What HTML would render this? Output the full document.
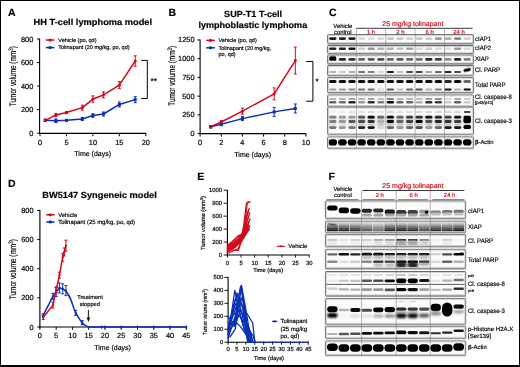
<!DOCTYPE html>
<html><head><meta charset="utf-8"><style>
html,body{margin:0;padding:0;background:#000;}
body{width:520px;height:367px;overflow:hidden;position:relative;}
#w{position:absolute;left:1px;top:1px;width:517.6px;height:364.3px;background:#fff;}
svg{position:absolute;left:0;top:0;will-change:transform;}
svg text{font-family:"Liberation Sans", sans-serif;stroke-width:0.18px;text-rendering:geometricPrecision;}
</style></head><body><div id="w"></div>
<svg width="520" height="367" viewBox="0 0 520 367">
<defs><linearGradient id="gx" x1="0" y1="0" x2="0" y2="1"><stop offset="0" stop-color="#000" stop-opacity="0.05"/><stop offset="0.4" stop-color="#000" stop-opacity="0.5"/><stop offset="1" stop-color="#000" stop-opacity="1"/></linearGradient><filter id="b4" x="-50%" y="-100%" width="200%" height="300%"><feGaussianBlur stdDeviation="0.4"/></filter><filter id="b5" x="-50%" y="-100%" width="200%" height="300%"><feGaussianBlur stdDeviation="0.5"/></filter><filter id="b6" x="-50%" y="-100%" width="200%" height="300%"><feGaussianBlur stdDeviation="0.6"/></filter><filter id="b7" x="-50%" y="-100%" width="200%" height="300%"><feGaussianBlur stdDeviation="0.7"/></filter><filter id="b8" x="-50%" y="-100%" width="200%" height="300%"><feGaussianBlur stdDeviation="0.8"/></filter><filter id="b10" x="-50%" y="-100%" width="200%" height="300%"><feGaussianBlur stdDeviation="1.0"/></filter></defs>
<text x="8.00" y="16.00" font-size="10.5" text-anchor="start" font-weight="bold" fill="#000" stroke="#000" >A</text>
<text x="33.60" y="25.00" font-size="8.8" text-anchor="start" font-weight="bold" fill="#000" stroke="#000" textLength="118.5" lengthAdjust="spacingAndGlyphs">HH T-cell lymphoma model</text>
<line x1="39.60" y1="38.60" x2="39.60" y2="133.90" stroke="#000" stroke-width="1.1" />
<line x1="39.05" y1="133.40" x2="146.20" y2="133.40" stroke="#000" stroke-width="1.1" />
<line x1="37.00" y1="133.20" x2="39.60" y2="133.20" stroke="#000" stroke-width="1" />
<text x="33.30" y="135.70" font-size="7.4" text-anchor="end" font-weight="normal" fill="#000" stroke="#000" >0</text>
<line x1="37.00" y1="109.65" x2="39.60" y2="109.65" stroke="#000" stroke-width="1" />
<text x="33.30" y="112.15" font-size="7.4" text-anchor="end" font-weight="normal" fill="#000" stroke="#000" >200</text>
<line x1="37.00" y1="86.10" x2="39.60" y2="86.10" stroke="#000" stroke-width="1" />
<text x="33.30" y="88.60" font-size="7.4" text-anchor="end" font-weight="normal" fill="#000" stroke="#000" >400</text>
<line x1="37.00" y1="62.55" x2="39.60" y2="62.55" stroke="#000" stroke-width="1" />
<text x="33.30" y="65.05" font-size="7.4" text-anchor="end" font-weight="normal" fill="#000" stroke="#000" >600</text>
<line x1="37.00" y1="39.00" x2="39.60" y2="39.00" stroke="#000" stroke-width="1" />
<text x="33.30" y="41.50" font-size="7.4" text-anchor="end" font-weight="normal" fill="#000" stroke="#000" >800</text>
<line x1="40.00" y1="133.40" x2="40.00" y2="136.20" stroke="#000" stroke-width="1" />
<text x="40.00" y="145.20" font-size="7.4" text-anchor="middle" font-weight="normal" fill="#000" stroke="#000" >0</text>
<line x1="66.45" y1="133.40" x2="66.45" y2="136.20" stroke="#000" stroke-width="1" />
<text x="66.45" y="145.20" font-size="7.4" text-anchor="middle" font-weight="normal" fill="#000" stroke="#000" >5</text>
<line x1="92.90" y1="133.40" x2="92.90" y2="136.20" stroke="#000" stroke-width="1" />
<text x="92.90" y="145.20" font-size="7.4" text-anchor="middle" font-weight="normal" fill="#000" stroke="#000" >10</text>
<line x1="119.35" y1="133.40" x2="119.35" y2="136.20" stroke="#000" stroke-width="1" />
<text x="119.35" y="145.20" font-size="7.4" text-anchor="middle" font-weight="normal" fill="#000" stroke="#000" >15</text>
<line x1="145.80" y1="133.40" x2="145.80" y2="136.20" stroke="#000" stroke-width="1" />
<text x="145.80" y="145.20" font-size="7.4" text-anchor="middle" font-weight="normal" fill="#000" stroke="#000" >20</text>
<text x="92.70" y="155.50" font-size="7.0" text-anchor="middle" font-weight="normal" fill="#000" stroke="#000" >Time (days)</text>
<text transform="translate(16.00,76.20) rotate(-90)" x="0" y="0" font-size="9.4" text-anchor="middle" stroke="#000" textLength="60" lengthAdjust="spacingAndGlyphs">Tumor volume (mm<tspan font-size="6.58" dy="-3.29">3</tspan><tspan dy="3.29">)</tspan></text>
<polyline points="45.29,120.37 55.87,120.72 66.45,120.37 82.32,118.95 92.90,115.54 103.48,114.01 119.35,104.47 135.22,99.64" fill="none" stroke="#0b2fb5" stroke-width="1.5" stroke-linejoin="round" stroke-linecap="round" />
<line x1="45.29" y1="119.17" x2="45.29" y2="121.57" stroke="#0b2fb5" stroke-width="1.0" />
<line x1="43.79" y1="119.17" x2="46.79" y2="119.17" stroke="#0b2fb5" stroke-width="1.0" />
<line x1="43.79" y1="121.57" x2="46.79" y2="121.57" stroke="#0b2fb5" stroke-width="1.0" />
<rect x="43.79" y="118.87" width="3.0" height="3.0" fill="#0b2fb5"/>
<line x1="55.87" y1="118.92" x2="55.87" y2="122.52" stroke="#0b2fb5" stroke-width="1.0" />
<line x1="54.37" y1="118.92" x2="57.37" y2="118.92" stroke="#0b2fb5" stroke-width="1.0" />
<line x1="54.37" y1="122.52" x2="57.37" y2="122.52" stroke="#0b2fb5" stroke-width="1.0" />
<rect x="54.37" y="119.22" width="3.0" height="3.0" fill="#0b2fb5"/>
<line x1="66.45" y1="119.37" x2="66.45" y2="121.37" stroke="#0b2fb5" stroke-width="1.0" />
<line x1="64.95" y1="119.37" x2="67.95" y2="119.37" stroke="#0b2fb5" stroke-width="1.0" />
<line x1="64.95" y1="121.37" x2="67.95" y2="121.37" stroke="#0b2fb5" stroke-width="1.0" />
<rect x="64.95" y="118.87" width="3.0" height="3.0" fill="#0b2fb5"/>
<line x1="82.32" y1="117.45" x2="82.32" y2="120.45" stroke="#0b2fb5" stroke-width="1.0" />
<line x1="80.82" y1="117.45" x2="83.82" y2="117.45" stroke="#0b2fb5" stroke-width="1.0" />
<line x1="80.82" y1="120.45" x2="83.82" y2="120.45" stroke="#0b2fb5" stroke-width="1.0" />
<rect x="80.82" y="117.45" width="3.0" height="3.0" fill="#0b2fb5"/>
<line x1="92.90" y1="113.74" x2="92.90" y2="117.34" stroke="#0b2fb5" stroke-width="1.0" />
<line x1="91.40" y1="113.74" x2="94.40" y2="113.74" stroke="#0b2fb5" stroke-width="1.0" />
<line x1="91.40" y1="117.34" x2="94.40" y2="117.34" stroke="#0b2fb5" stroke-width="1.0" />
<rect x="91.40" y="114.04" width="3.0" height="3.0" fill="#0b2fb5"/>
<line x1="103.48" y1="112.01" x2="103.48" y2="116.01" stroke="#0b2fb5" stroke-width="1.0" />
<line x1="101.98" y1="112.01" x2="104.98" y2="112.01" stroke="#0b2fb5" stroke-width="1.0" />
<line x1="101.98" y1="116.01" x2="104.98" y2="116.01" stroke="#0b2fb5" stroke-width="1.0" />
<rect x="101.98" y="112.51" width="3.0" height="3.0" fill="#0b2fb5"/>
<line x1="119.35" y1="101.97" x2="119.35" y2="106.97" stroke="#0b2fb5" stroke-width="1.0" />
<line x1="117.85" y1="101.97" x2="120.85" y2="101.97" stroke="#0b2fb5" stroke-width="1.0" />
<line x1="117.85" y1="106.97" x2="120.85" y2="106.97" stroke="#0b2fb5" stroke-width="1.0" />
<rect x="117.85" y="102.97" width="3.0" height="3.0" fill="#0b2fb5"/>
<line x1="135.22" y1="96.64" x2="135.22" y2="102.64" stroke="#0b2fb5" stroke-width="1.0" />
<line x1="133.72" y1="96.64" x2="136.72" y2="96.64" stroke="#0b2fb5" stroke-width="1.0" />
<line x1="133.72" y1="102.64" x2="136.72" y2="102.64" stroke="#0b2fb5" stroke-width="1.0" />
<rect x="133.72" y="98.14" width="3.0" height="3.0" fill="#0b2fb5"/>
<polyline points="45.29,120.37 55.87,114.95 66.45,112.59 82.32,107.65 92.90,99.05 103.48,94.93 119.35,85.16 135.22,61.02" fill="none" stroke="#d00a1c" stroke-width="1.5" stroke-linejoin="round" stroke-linecap="round" />
<line x1="45.29" y1="119.37" x2="45.29" y2="121.37" stroke="#d00a1c" stroke-width="1.0" />
<line x1="43.79" y1="119.37" x2="46.79" y2="119.37" stroke="#d00a1c" stroke-width="1.0" />
<line x1="43.79" y1="121.37" x2="46.79" y2="121.37" stroke="#d00a1c" stroke-width="1.0" />
<circle cx="45.29" cy="120.37" r="1.5" fill="#d00a1c"/>
<line x1="55.87" y1="113.45" x2="55.87" y2="116.45" stroke="#d00a1c" stroke-width="1.0" />
<line x1="54.37" y1="113.45" x2="57.37" y2="113.45" stroke="#d00a1c" stroke-width="1.0" />
<line x1="54.37" y1="116.45" x2="57.37" y2="116.45" stroke="#d00a1c" stroke-width="1.0" />
<circle cx="55.87" cy="114.95" r="1.5" fill="#d00a1c"/>
<line x1="66.45" y1="111.59" x2="66.45" y2="113.59" stroke="#d00a1c" stroke-width="1.0" />
<line x1="64.95" y1="111.59" x2="67.95" y2="111.59" stroke="#d00a1c" stroke-width="1.0" />
<line x1="64.95" y1="113.59" x2="67.95" y2="113.59" stroke="#d00a1c" stroke-width="1.0" />
<circle cx="66.45" cy="112.59" r="1.5" fill="#d00a1c"/>
<line x1="82.32" y1="105.15" x2="82.32" y2="110.15" stroke="#d00a1c" stroke-width="1.0" />
<line x1="80.82" y1="105.15" x2="83.82" y2="105.15" stroke="#d00a1c" stroke-width="1.0" />
<line x1="80.82" y1="110.15" x2="83.82" y2="110.15" stroke="#d00a1c" stroke-width="1.0" />
<circle cx="82.32" cy="107.65" r="1.5" fill="#d00a1c"/>
<line x1="92.90" y1="95.85" x2="92.90" y2="102.25" stroke="#d00a1c" stroke-width="1.0" />
<line x1="91.40" y1="95.85" x2="94.40" y2="95.85" stroke="#d00a1c" stroke-width="1.0" />
<line x1="91.40" y1="102.25" x2="94.40" y2="102.25" stroke="#d00a1c" stroke-width="1.0" />
<circle cx="92.90" cy="99.05" r="1.5" fill="#d00a1c"/>
<line x1="103.48" y1="91.93" x2="103.48" y2="97.93" stroke="#d00a1c" stroke-width="1.0" />
<line x1="101.98" y1="91.93" x2="104.98" y2="91.93" stroke="#d00a1c" stroke-width="1.0" />
<line x1="101.98" y1="97.93" x2="104.98" y2="97.93" stroke="#d00a1c" stroke-width="1.0" />
<circle cx="103.48" cy="94.93" r="1.5" fill="#d00a1c"/>
<line x1="119.35" y1="81.66" x2="119.35" y2="88.66" stroke="#d00a1c" stroke-width="1.0" />
<line x1="117.85" y1="81.66" x2="120.85" y2="81.66" stroke="#d00a1c" stroke-width="1.0" />
<line x1="117.85" y1="88.66" x2="120.85" y2="88.66" stroke="#d00a1c" stroke-width="1.0" />
<circle cx="119.35" cy="85.16" r="1.5" fill="#d00a1c"/>
<line x1="135.22" y1="55.82" x2="135.22" y2="66.22" stroke="#d00a1c" stroke-width="1.0" />
<line x1="133.72" y1="55.82" x2="136.72" y2="55.82" stroke="#d00a1c" stroke-width="1.0" />
<line x1="133.72" y1="66.22" x2="136.72" y2="66.22" stroke="#d00a1c" stroke-width="1.0" />
<circle cx="135.22" cy="61.02" r="1.5" fill="#d00a1c"/>
<line x1="45.80" y1="40.00" x2="54.40" y2="40.00" stroke="#d00a1c" stroke-width="1.5" />
<circle cx="50.10" cy="40.00" r="1.6" fill="#d00a1c"/>
<text x="58.30" y="41.80" font-size="5.5" text-anchor="start" font-weight="normal" fill="#000" stroke="#000" >Vehicle (po, qd)</text>
<line x1="45.80" y1="47.60" x2="54.40" y2="47.60" stroke="#0b2fb5" stroke-width="1.5" />
<rect x="48.70" y="46.20" width="2.8" height="2.8" fill="#0b2fb5"/>
<text x="58.30" y="49.40" font-size="5.5" text-anchor="start" font-weight="normal" fill="#000" stroke="#000" >Tolinapant (20 mg/kg, po, qd)</text>
<polyline points="141.2,60.4 147.3,60.4 147.3,98.5 141.2,98.5" fill="none" stroke="#000" stroke-width="1.0"/>
<text x="153.80" y="84.30" font-size="8.5" text-anchor="middle" font-weight="normal" fill="#000" stroke="#000" >**</text>
<text x="168.50" y="16.30" font-size="10.5" text-anchor="start" font-weight="bold" fill="#000" stroke="#000" >B</text>
<text x="253.10" y="17.00" font-size="8.8" text-anchor="middle" font-weight="bold" fill="#000" stroke="#000" textLength="58" lengthAdjust="spacingAndGlyphs">SUP-T1 T-cell</text>
<text x="252.80" y="28.20" font-size="8.8" text-anchor="middle" font-weight="bold" fill="#000" stroke="#000" textLength="108.8" lengthAdjust="spacingAndGlyphs">lymphoblastic lymphoma</text>
<line x1="200.10" y1="39.50" x2="200.10" y2="134.10" stroke="#000" stroke-width="1.1" />
<line x1="199.55" y1="133.60" x2="306.30" y2="133.60" stroke="#000" stroke-width="1.1" />
<line x1="197.40" y1="133.60" x2="200.10" y2="133.60" stroke="#000" stroke-width="1" />
<text x="194.50" y="136.10" font-size="7.4" text-anchor="end" font-weight="normal" fill="#000" stroke="#000" >0</text>
<line x1="197.40" y1="114.88" x2="200.10" y2="114.88" stroke="#000" stroke-width="1" />
<text x="194.50" y="117.38" font-size="7.4" text-anchor="end" font-weight="normal" fill="#000" stroke="#000" >250</text>
<line x1="197.40" y1="96.15" x2="200.10" y2="96.15" stroke="#000" stroke-width="1" />
<text x="194.50" y="98.65" font-size="7.4" text-anchor="end" font-weight="normal" fill="#000" stroke="#000" >500</text>
<line x1="197.40" y1="77.42" x2="200.10" y2="77.42" stroke="#000" stroke-width="1" />
<text x="194.50" y="79.92" font-size="7.4" text-anchor="end" font-weight="normal" fill="#000" stroke="#000" >750</text>
<line x1="197.40" y1="58.70" x2="200.10" y2="58.70" stroke="#000" stroke-width="1" />
<text x="194.50" y="61.20" font-size="7.4" text-anchor="end" font-weight="normal" fill="#000" stroke="#000" >1000</text>
<line x1="197.40" y1="39.97" x2="200.10" y2="39.97" stroke="#000" stroke-width="1" />
<text x="194.50" y="42.47" font-size="7.4" text-anchor="end" font-weight="normal" fill="#000" stroke="#000" >1250</text>
<line x1="200.10" y1="133.60" x2="200.10" y2="136.60" stroke="#000" stroke-width="1" />
<text x="200.10" y="145.40" font-size="7.4" text-anchor="middle" font-weight="normal" fill="#000" stroke="#000" >0</text>
<line x1="221.26" y1="133.60" x2="221.26" y2="136.60" stroke="#000" stroke-width="1" />
<text x="221.26" y="145.40" font-size="7.4" text-anchor="middle" font-weight="normal" fill="#000" stroke="#000" >2</text>
<line x1="242.42" y1="133.60" x2="242.42" y2="136.60" stroke="#000" stroke-width="1" />
<text x="242.42" y="145.40" font-size="7.4" text-anchor="middle" font-weight="normal" fill="#000" stroke="#000" >4</text>
<line x1="263.58" y1="133.60" x2="263.58" y2="136.60" stroke="#000" stroke-width="1" />
<text x="263.58" y="145.40" font-size="7.4" text-anchor="middle" font-weight="normal" fill="#000" stroke="#000" >6</text>
<line x1="284.74" y1="133.60" x2="284.74" y2="136.60" stroke="#000" stroke-width="1" />
<text x="284.74" y="145.40" font-size="7.4" text-anchor="middle" font-weight="normal" fill="#000" stroke="#000" >8</text>
<line x1="305.90" y1="133.60" x2="305.90" y2="136.60" stroke="#000" stroke-width="1" />
<text x="305.90" y="145.40" font-size="7.4" text-anchor="middle" font-weight="normal" fill="#000" stroke="#000" >10</text>
<text x="252.70" y="156.50" font-size="7.0" text-anchor="middle" font-weight="normal" fill="#000" stroke="#000" >Time (days)</text>
<text transform="translate(175.20,75.80) rotate(-90)" x="0" y="0" font-size="9.4" text-anchor="middle" stroke="#000" textLength="60" lengthAdjust="spacingAndGlyphs">Tumor volume (mm<tspan font-size="6.58" dy="-3.29">3</tspan><tspan dy="3.29">)</tspan></text>
<polyline points="210.68,126.86 221.26,124.24 242.42,118.62 274.16,111.88 295.32,108.51" fill="none" stroke="#0b2fb5" stroke-width="1.5" stroke-linejoin="round" stroke-linecap="round" />
<line x1="210.68" y1="125.86" x2="210.68" y2="127.86" stroke="#0b2fb5" stroke-width="1.0" />
<line x1="209.18" y1="125.86" x2="212.18" y2="125.86" stroke="#0b2fb5" stroke-width="1.0" />
<line x1="209.18" y1="127.86" x2="212.18" y2="127.86" stroke="#0b2fb5" stroke-width="1.0" />
<rect x="209.18" y="125.36" width="3.0" height="3.0" fill="#0b2fb5"/>
<line x1="221.26" y1="122.74" x2="221.26" y2="125.74" stroke="#0b2fb5" stroke-width="1.0" />
<line x1="219.76" y1="122.74" x2="222.76" y2="122.74" stroke="#0b2fb5" stroke-width="1.0" />
<line x1="219.76" y1="125.74" x2="222.76" y2="125.74" stroke="#0b2fb5" stroke-width="1.0" />
<rect x="219.76" y="122.74" width="3.0" height="3.0" fill="#0b2fb5"/>
<line x1="242.42" y1="116.62" x2="242.42" y2="120.62" stroke="#0b2fb5" stroke-width="1.0" />
<line x1="240.92" y1="116.62" x2="243.92" y2="116.62" stroke="#0b2fb5" stroke-width="1.0" />
<line x1="240.92" y1="120.62" x2="243.92" y2="120.62" stroke="#0b2fb5" stroke-width="1.0" />
<rect x="240.92" y="117.12" width="3.0" height="3.0" fill="#0b2fb5"/>
<line x1="274.16" y1="107.38" x2="274.16" y2="116.38" stroke="#0b2fb5" stroke-width="1.0" />
<line x1="272.66" y1="107.38" x2="275.66" y2="107.38" stroke="#0b2fb5" stroke-width="1.0" />
<line x1="272.66" y1="116.38" x2="275.66" y2="116.38" stroke="#0b2fb5" stroke-width="1.0" />
<rect x="272.66" y="110.38" width="3.0" height="3.0" fill="#0b2fb5"/>
<line x1="295.32" y1="104.01" x2="295.32" y2="113.01" stroke="#0b2fb5" stroke-width="1.0" />
<line x1="293.82" y1="104.01" x2="296.82" y2="104.01" stroke="#0b2fb5" stroke-width="1.0" />
<line x1="293.82" y1="113.01" x2="296.82" y2="113.01" stroke="#0b2fb5" stroke-width="1.0" />
<rect x="293.82" y="107.01" width="3.0" height="3.0" fill="#0b2fb5"/>
<polyline points="210.68,126.71 221.26,121.99 242.42,111.13 274.16,93.90 295.32,60.57" fill="none" stroke="#d00a1c" stroke-width="1.5" stroke-linejoin="round" stroke-linecap="round" />
<line x1="210.68" y1="125.71" x2="210.68" y2="127.71" stroke="#d00a1c" stroke-width="1.0" />
<line x1="209.18" y1="125.71" x2="212.18" y2="125.71" stroke="#d00a1c" stroke-width="1.0" />
<line x1="209.18" y1="127.71" x2="212.18" y2="127.71" stroke="#d00a1c" stroke-width="1.0" />
<circle cx="210.68" cy="126.71" r="1.5" fill="#d00a1c"/>
<line x1="221.26" y1="120.49" x2="221.26" y2="123.49" stroke="#d00a1c" stroke-width="1.0" />
<line x1="219.76" y1="120.49" x2="222.76" y2="120.49" stroke="#d00a1c" stroke-width="1.0" />
<line x1="219.76" y1="123.49" x2="222.76" y2="123.49" stroke="#d00a1c" stroke-width="1.0" />
<circle cx="221.26" cy="121.99" r="1.5" fill="#d00a1c"/>
<line x1="242.42" y1="108.13" x2="242.42" y2="114.13" stroke="#d00a1c" stroke-width="1.0" />
<line x1="240.92" y1="108.13" x2="243.92" y2="108.13" stroke="#d00a1c" stroke-width="1.0" />
<line x1="240.92" y1="114.13" x2="243.92" y2="114.13" stroke="#d00a1c" stroke-width="1.0" />
<circle cx="242.42" cy="111.13" r="1.5" fill="#d00a1c"/>
<line x1="274.16" y1="87.90" x2="274.16" y2="99.90" stroke="#d00a1c" stroke-width="1.0" />
<line x1="272.66" y1="87.90" x2="275.66" y2="87.90" stroke="#d00a1c" stroke-width="1.0" />
<line x1="272.66" y1="99.90" x2="275.66" y2="99.90" stroke="#d00a1c" stroke-width="1.0" />
<circle cx="274.16" cy="93.90" r="1.5" fill="#d00a1c"/>
<line x1="295.32" y1="47.07" x2="295.32" y2="74.07" stroke="#d00a1c" stroke-width="1.0" />
<line x1="293.82" y1="47.07" x2="296.82" y2="47.07" stroke="#d00a1c" stroke-width="1.0" />
<line x1="293.82" y1="74.07" x2="296.82" y2="74.07" stroke="#d00a1c" stroke-width="1.0" />
<circle cx="295.32" cy="60.57" r="1.5" fill="#d00a1c"/>
<line x1="206.20" y1="40.40" x2="214.90" y2="40.40" stroke="#d00a1c" stroke-width="1.5" />
<circle cx="210.50" cy="40.40" r="1.6" fill="#d00a1c"/>
<text x="218.50" y="42.30" font-size="5.5" text-anchor="start" font-weight="normal" fill="#000" stroke="#000" >Vehicle (po, qd)</text>
<line x1="206.20" y1="47.80" x2="214.90" y2="47.80" stroke="#0b2fb5" stroke-width="1.5" />
<rect x="209.10" y="46.40" width="2.8" height="2.8" fill="#0b2fb5"/>
<text x="218.50" y="49.60" font-size="5.5" text-anchor="start" font-weight="normal" fill="#000" stroke="#000" >Tolinapant (20 mg/kg,</text>
<text x="218.50" y="55.80" font-size="5.5" text-anchor="start" font-weight="normal" fill="#000" stroke="#000" >po, qd)</text>
<polyline points="306.2,61.5 312.9,61.5 312.9,101.2 306.2,101.2" fill="none" stroke="#000" stroke-width="1.0"/>
<text x="317.00" y="84.00" font-size="7.8" text-anchor="middle" font-weight="normal" fill="#000" stroke="#000" >*</text>
<text x="329.00" y="16.40" font-size="10.5" text-anchor="start" font-weight="bold" fill="#000" stroke="#000" >C</text>
<text x="342.80" y="28.00" font-size="5.9" text-anchor="middle" font-weight="normal" fill="#000" stroke="#000" >Vehicle</text>
<text x="342.80" y="33.60" font-size="5.9" text-anchor="middle" font-weight="normal" fill="#000" stroke="#000" >control</text>
<text x="412.80" y="26.00" font-size="7.0" text-anchor="middle" font-weight="normal" fill="#d00a1c" stroke="#d00a1c" >25 mg/kg tolinapant</text>
<line x1="356.30" y1="28.30" x2="472.60" y2="28.30" stroke="#222" stroke-width="0.9" />
<text x="371.05" y="33.90" font-size="5.9" text-anchor="middle" font-weight="normal" fill="#d00a1c" stroke="#d00a1c" >1 h</text>
<text x="400.35" y="33.90" font-size="5.9" text-anchor="middle" font-weight="normal" fill="#d00a1c" stroke="#d00a1c" >2 h</text>
<text x="429.65" y="33.90" font-size="5.9" text-anchor="middle" font-weight="normal" fill="#d00a1c" stroke="#d00a1c" >6 h</text>
<text x="458.95" y="33.90" font-size="5.9" text-anchor="middle" font-weight="normal" fill="#d00a1c" stroke="#d00a1c" >24 h</text>
<rect x="327.60" y="34.60" width="146.00" height="9.00" fill="#fbfbfb" stroke="#5a5a5a" stroke-width="0.9" rx="0.8"/>
<rect x="327.60" y="45.50" width="146.00" height="8.00" fill="#fbfbfb" stroke="#5a5a5a" stroke-width="0.9" rx="0.8"/>
<rect x="327.60" y="55.10" width="146.00" height="8.60" fill="#fbfbfb" stroke="#5a5a5a" stroke-width="0.9" rx="0.8"/>
<rect x="327.60" y="65.50" width="146.00" height="9.90" fill="#fbfbfb" stroke="#5a5a5a" stroke-width="0.9" rx="0.8"/>
<rect x="327.60" y="77.40" width="146.00" height="15.20" fill="#fbfbfb" stroke="#5a5a5a" stroke-width="0.9" rx="0.8"/>
<rect x="327.60" y="95.00" width="146.00" height="11.30" fill="#fbfbfb" stroke="#5a5a5a" stroke-width="0.9" rx="0.8"/>
<rect x="327.60" y="107.20" width="146.00" height="27.10" fill="#fbfbfb" stroke="#5a5a5a" stroke-width="0.9" rx="0.8"/>
<rect x="327.60" y="136.90" width="146.00" height="11.30" fill="#fbfbfb" stroke="#5a5a5a" stroke-width="0.9" rx="0.8"/>
<rect x="329.20" y="37.20" width="7.20" height="2.80" rx="1.40" fill="rgb(25,25,25)" filter="url(#b6)"/>
<rect x="338.80" y="37.20" width="7.20" height="2.80" rx="1.40" fill="rgb(38,38,38)" filter="url(#b6)"/>
<rect x="348.40" y="37.20" width="7.20" height="2.80" rx="1.40" fill="rgb(38,38,38)" filter="url(#b6)"/>
<rect x="358.00" y="37.20" width="7.20" height="2.80" rx="1.40" fill="rgb(217,217,217)" filter="url(#b6)"/>
<rect x="367.60" y="37.20" width="7.20" height="2.80" rx="1.40" fill="rgb(224,224,224)" filter="url(#b6)"/>
<rect x="377.20" y="37.20" width="7.20" height="2.80" rx="1.40" fill="rgb(217,217,217)" filter="url(#b6)"/>
<rect x="386.80" y="37.20" width="7.20" height="2.80" rx="1.40" fill="rgb(199,199,199)" filter="url(#b6)"/>
<rect x="396.40" y="37.20" width="7.20" height="2.80" rx="1.40" fill="rgb(199,199,199)" filter="url(#b6)"/>
<rect x="406.00" y="37.20" width="7.20" height="2.80" rx="1.40" fill="rgb(209,209,209)" filter="url(#b6)"/>
<rect x="415.60" y="37.20" width="7.20" height="2.80" rx="1.40" fill="rgb(199,199,199)" filter="url(#b6)"/>
<rect x="425.20" y="37.20" width="7.20" height="2.80" rx="1.40" fill="rgb(204,204,204)" filter="url(#b6)"/>
<rect x="434.80" y="37.20" width="7.20" height="2.80" rx="1.40" fill="rgb(153,153,153)" filter="url(#b6)"/>
<rect x="444.40" y="37.20" width="7.20" height="2.80" rx="1.40" fill="rgb(178,178,178)" filter="url(#b6)"/>
<rect x="454.00" y="37.20" width="7.20" height="2.80" rx="1.40" fill="rgb(140,140,140)" filter="url(#b6)"/>
<rect x="463.60" y="37.20" width="7.20" height="2.80" rx="1.40" fill="rgb(209,209,209)" filter="url(#b6)"/>
<rect x="329.20" y="47.55" width="7.20" height="2.50" rx="1.25" fill="rgb(38,38,38)" filter="url(#b6)"/>
<rect x="338.80" y="47.55" width="7.20" height="2.50" rx="1.25" fill="rgb(38,38,38)" filter="url(#b6)"/>
<rect x="348.40" y="47.55" width="7.20" height="2.50" rx="1.25" fill="rgb(25,25,25)" filter="url(#b6)"/>
<rect x="358.00" y="47.55" width="7.20" height="2.50" rx="1.25" fill="rgb(204,204,204)" filter="url(#b6)"/>
<rect x="367.60" y="47.55" width="7.20" height="2.50" rx="1.25" fill="rgb(153,153,153)" filter="url(#b6)"/>
<rect x="377.20" y="47.55" width="7.20" height="2.50" rx="1.25" fill="rgb(178,178,178)" filter="url(#b6)"/>
<rect x="386.80" y="47.55" width="7.20" height="2.50" rx="1.25" fill="rgb(178,178,178)" filter="url(#b6)"/>
<rect x="396.40" y="47.55" width="7.20" height="2.50" rx="1.25" fill="rgb(191,191,191)" filter="url(#b6)"/>
<rect x="406.00" y="47.55" width="7.20" height="2.50" rx="1.25" fill="rgb(166,166,166)" filter="url(#b6)"/>
<rect x="415.60" y="47.55" width="7.20" height="2.50" rx="1.25" fill="rgb(217,217,217)" filter="url(#b6)"/>
<rect x="425.20" y="47.55" width="7.20" height="2.50" rx="1.25" fill="rgb(204,204,204)" filter="url(#b6)"/>
<rect x="434.80" y="47.55" width="7.20" height="2.50" rx="1.25" fill="rgb(217,217,217)" filter="url(#b6)"/>
<rect x="444.40" y="47.55" width="7.20" height="2.50" rx="1.25" fill="rgb(224,224,224)" filter="url(#b6)"/>
<rect x="454.00" y="47.55" width="7.20" height="2.50" rx="1.25" fill="rgb(153,153,153)" filter="url(#b6)"/>
<rect x="463.60" y="47.55" width="7.20" height="2.50" rx="1.25" fill="rgb(217,217,217)" filter="url(#b6)"/>
<rect x="329.20" y="58.00" width="7.20" height="2.80" rx="1.40" fill="rgb(0,0,0)" filter="url(#b6)"/>
<rect x="338.80" y="58.00" width="7.20" height="2.80" rx="1.40" fill="rgb(38,38,38)" filter="url(#b6)"/>
<rect x="348.40" y="58.00" width="7.20" height="2.80" rx="1.40" fill="rgb(51,51,51)" filter="url(#b6)"/>
<rect x="358.00" y="58.00" width="7.20" height="2.80" rx="1.40" fill="rgb(102,102,102)" filter="url(#b6)"/>
<rect x="367.60" y="58.00" width="7.20" height="2.80" rx="1.40" fill="rgb(89,89,89)" filter="url(#b6)"/>
<rect x="377.20" y="58.00" width="7.20" height="2.80" rx="1.40" fill="rgb(77,77,77)" filter="url(#b6)"/>
<rect x="386.80" y="58.00" width="7.20" height="2.80" rx="1.40" fill="rgb(102,102,102)" filter="url(#b6)"/>
<rect x="396.40" y="58.00" width="7.20" height="2.80" rx="1.40" fill="rgb(89,89,89)" filter="url(#b6)"/>
<rect x="406.00" y="58.00" width="7.20" height="2.80" rx="1.40" fill="rgb(102,102,102)" filter="url(#b6)"/>
<rect x="415.60" y="58.00" width="7.20" height="2.80" rx="1.40" fill="rgb(115,115,115)" filter="url(#b6)"/>
<rect x="425.20" y="58.00" width="7.20" height="2.80" rx="1.40" fill="rgb(38,38,38)" filter="url(#b6)"/>
<rect x="434.80" y="58.00" width="7.20" height="2.80" rx="1.40" fill="rgb(64,64,64)" filter="url(#b6)"/>
<rect x="444.40" y="58.00" width="7.20" height="2.80" rx="1.40" fill="rgb(140,140,140)" filter="url(#b6)"/>
<rect x="454.00" y="58.00" width="7.20" height="2.80" rx="1.40" fill="rgb(38,38,38)" filter="url(#b6)"/>
<rect x="463.60" y="58.00" width="7.20" height="2.80" rx="1.40" fill="rgb(128,128,128)" filter="url(#b6)"/>
<rect x="329.30" y="55.80" width="7.00" height="4.00" rx="2.00" fill="rgb(0,0,0)" filter="url(#b6)"/>
<rect x="329.30" y="70.90" width="7.00" height="2.00" rx="1.00" fill="rgb(178,178,178)" filter="url(#b6)"/>
<rect x="338.90" y="70.90" width="7.00" height="2.00" rx="1.00" fill="rgb(204,204,204)" filter="url(#b6)"/>
<rect x="348.50" y="70.90" width="7.00" height="2.00" rx="1.00" fill="rgb(178,178,178)" filter="url(#b6)"/>
<rect x="358.10" y="70.90" width="7.00" height="2.00" rx="1.00" fill="rgb(115,115,115)" filter="url(#b6)"/>
<rect x="367.70" y="70.90" width="7.00" height="2.00" rx="1.00" fill="rgb(128,128,128)" filter="url(#b6)"/>
<rect x="377.30" y="70.90" width="7.00" height="2.00" rx="1.00" fill="rgb(217,217,217)" filter="url(#b6)"/>
<rect x="386.90" y="70.90" width="7.00" height="2.00" rx="1.00" fill="rgb(25,25,25)" filter="url(#b6)"/>
<rect x="396.50" y="70.90" width="7.00" height="2.00" rx="1.00" fill="rgb(191,191,191)" filter="url(#b6)"/>
<rect x="406.10" y="70.90" width="7.00" height="2.00" rx="1.00" fill="rgb(77,77,77)" filter="url(#b6)"/>
<rect x="415.70" y="70.90" width="7.00" height="2.00" rx="1.00" fill="rgb(64,64,64)" filter="url(#b6)"/>
<rect x="425.30" y="70.90" width="7.00" height="2.00" rx="1.00" fill="rgb(166,166,166)" filter="url(#b6)"/>
<rect x="434.90" y="70.90" width="7.00" height="2.00" rx="1.00" fill="rgb(102,102,102)" filter="url(#b6)"/>
<rect x="444.50" y="70.90" width="7.00" height="2.00" rx="1.00" fill="rgb(38,38,38)" filter="url(#b6)"/>
<rect x="454.10" y="70.90" width="7.00" height="2.00" rx="1.00" fill="rgb(77,77,77)" filter="url(#b6)"/>
<rect x="463.50" y="68.60" width="7.40" height="2.80" rx="1.40" fill="rgb(0,0,0)" filter="url(#b6)" transform="rotate(-14 467.20 70.00)"/>
<rect x="329.10" y="79.90" width="7.40" height="3.00" rx="1.50" fill="rgb(13,13,13)" filter="url(#b6)"/>
<rect x="338.70" y="79.90" width="7.40" height="3.00" rx="1.50" fill="rgb(13,13,13)" filter="url(#b6)"/>
<rect x="348.30" y="79.90" width="7.40" height="3.00" rx="1.50" fill="rgb(13,13,13)" filter="url(#b6)"/>
<rect x="357.90" y="79.90" width="7.40" height="3.00" rx="1.50" fill="rgb(13,13,13)" filter="url(#b6)"/>
<rect x="367.50" y="79.90" width="7.40" height="3.00" rx="1.50" fill="rgb(13,13,13)" filter="url(#b6)"/>
<rect x="377.10" y="79.90" width="7.40" height="3.00" rx="1.50" fill="rgb(13,13,13)" filter="url(#b6)"/>
<rect x="386.70" y="79.90" width="7.40" height="3.00" rx="1.50" fill="rgb(13,13,13)" filter="url(#b6)"/>
<rect x="396.30" y="79.90" width="7.40" height="3.00" rx="1.50" fill="rgb(13,13,13)" filter="url(#b6)"/>
<rect x="405.90" y="79.90" width="7.40" height="3.00" rx="1.50" fill="rgb(13,13,13)" filter="url(#b6)"/>
<rect x="415.50" y="79.90" width="7.40" height="3.00" rx="1.50" fill="rgb(13,13,13)" filter="url(#b6)"/>
<rect x="425.10" y="79.90" width="7.40" height="3.00" rx="1.50" fill="rgb(13,13,13)" filter="url(#b6)"/>
<rect x="434.70" y="79.90" width="7.40" height="3.00" rx="1.50" fill="rgb(13,13,13)" filter="url(#b6)"/>
<rect x="444.30" y="79.90" width="7.40" height="3.00" rx="1.50" fill="rgb(38,38,38)" filter="url(#b6)"/>
<rect x="453.90" y="79.90" width="7.40" height="3.00" rx="1.50" fill="rgb(13,13,13)" filter="url(#b6)"/>
<rect x="463.50" y="79.90" width="7.40" height="3.00" rx="1.50" fill="rgb(102,102,102)" filter="url(#b6)"/>
<rect x="329.20" y="88.60" width="7.20" height="2.00" rx="1.00" fill="rgb(153,153,153)" filter="url(#b6)"/>
<rect x="338.80" y="88.60" width="7.20" height="2.00" rx="1.00" fill="rgb(153,153,153)" filter="url(#b6)"/>
<rect x="348.40" y="88.60" width="7.20" height="2.00" rx="1.00" fill="rgb(140,140,140)" filter="url(#b6)"/>
<rect x="358.00" y="88.60" width="7.20" height="2.00" rx="1.00" fill="rgb(115,115,115)" filter="url(#b6)"/>
<rect x="367.60" y="88.60" width="7.20" height="2.00" rx="1.00" fill="rgb(115,115,115)" filter="url(#b6)"/>
<rect x="377.20" y="88.60" width="7.20" height="2.00" rx="1.00" fill="rgb(217,217,217)" filter="url(#b6)"/>
<rect x="386.80" y="88.60" width="7.20" height="2.00" rx="1.00" fill="rgb(89,89,89)" filter="url(#b6)"/>
<rect x="396.40" y="88.60" width="7.20" height="2.00" rx="1.00" fill="rgb(191,191,191)" filter="url(#b6)"/>
<rect x="406.00" y="88.60" width="7.20" height="2.00" rx="1.00" fill="rgb(102,102,102)" filter="url(#b6)"/>
<rect x="415.60" y="88.60" width="7.20" height="2.00" rx="1.00" fill="rgb(77,77,77)" filter="url(#b6)"/>
<rect x="425.20" y="88.60" width="7.20" height="2.00" rx="1.00" fill="rgb(178,178,178)" filter="url(#b6)"/>
<rect x="434.80" y="88.60" width="7.20" height="2.00" rx="1.00" fill="rgb(128,128,128)" filter="url(#b6)"/>
<rect x="444.40" y="88.60" width="7.20" height="2.00" rx="1.00" fill="rgb(25,25,25)" filter="url(#b6)"/>
<rect x="454.00" y="88.60" width="7.20" height="2.00" rx="1.00" fill="rgb(178,178,178)" filter="url(#b6)"/>
<rect x="463.60" y="88.60" width="7.20" height="2.00" rx="1.00" fill="rgb(13,13,13)" filter="url(#b6)"/>
<rect x="329.30" y="97.90" width="7.00" height="2.00" rx="1.00" fill="rgb(178,178,178)" filter="url(#b6)"/>
<rect x="338.90" y="97.90" width="7.00" height="2.00" rx="1.00" fill="rgb(178,178,178)" filter="url(#b6)"/>
<rect x="348.50" y="97.90" width="7.00" height="2.00" rx="1.00" fill="rgb(166,166,166)" filter="url(#b6)"/>
<rect x="358.10" y="97.90" width="7.00" height="2.00" rx="1.00" fill="rgb(178,178,178)" filter="url(#b6)"/>
<rect x="367.70" y="97.90" width="7.00" height="2.00" rx="1.00" fill="rgb(166,166,166)" filter="url(#b6)"/>
<rect x="377.30" y="97.90" width="7.00" height="2.00" rx="1.00" fill="rgb(191,191,191)" filter="url(#b6)"/>
<rect x="386.90" y="97.90" width="7.00" height="2.00" rx="1.00" fill="rgb(128,128,128)" filter="url(#b6)"/>
<rect x="396.50" y="97.90" width="7.00" height="2.00" rx="1.00" fill="rgb(178,178,178)" filter="url(#b6)"/>
<rect x="406.10" y="97.90" width="7.00" height="2.00" rx="1.00" fill="rgb(178,178,178)" filter="url(#b6)"/>
<rect x="415.70" y="97.90" width="7.00" height="2.00" rx="1.00" fill="rgb(191,191,191)" filter="url(#b6)"/>
<rect x="425.30" y="97.90" width="7.00" height="2.00" rx="1.00" fill="rgb(153,153,153)" filter="url(#b6)"/>
<rect x="434.90" y="97.90" width="7.00" height="2.00" rx="1.00" fill="rgb(140,140,140)" filter="url(#b6)"/>
<rect x="444.50" y="97.90" width="7.00" height="2.00" rx="1.00" fill="rgb(217,217,217)" filter="url(#b6)"/>
<rect x="454.10" y="97.90" width="7.00" height="2.00" rx="1.00" fill="rgb(166,166,166)" filter="url(#b6)"/>
<rect x="463.70" y="97.90" width="7.00" height="2.00" rx="1.00" fill="rgb(204,204,204)" filter="url(#b6)"/>
<rect x="329.20" y="100.90" width="7.20" height="2.60" rx="1.30" fill="rgb(102,102,102)" filter="url(#b6)"/>
<rect x="338.80" y="100.90" width="7.20" height="2.60" rx="1.30" fill="rgb(115,115,115)" filter="url(#b6)"/>
<rect x="348.40" y="100.90" width="7.20" height="2.60" rx="1.30" fill="rgb(38,38,38)" filter="url(#b6)"/>
<rect x="358.00" y="100.90" width="7.20" height="2.60" rx="1.30" fill="rgb(153,153,153)" filter="url(#b6)"/>
<rect x="367.60" y="100.90" width="7.20" height="2.60" rx="1.30" fill="rgb(51,51,51)" filter="url(#b6)"/>
<rect x="377.20" y="100.90" width="7.20" height="2.60" rx="1.30" fill="rgb(128,128,128)" filter="url(#b6)"/>
<rect x="386.80" y="100.90" width="7.20" height="2.60" rx="1.30" fill="rgb(0,0,0)" filter="url(#b6)"/>
<rect x="396.40" y="100.90" width="7.20" height="2.60" rx="1.30" fill="rgb(102,102,102)" filter="url(#b6)"/>
<rect x="406.00" y="100.90" width="7.20" height="2.60" rx="1.30" fill="rgb(102,102,102)" filter="url(#b6)"/>
<rect x="415.60" y="100.90" width="7.20" height="2.60" rx="1.30" fill="rgb(178,178,178)" filter="url(#b6)"/>
<rect x="425.20" y="100.90" width="7.20" height="2.60" rx="1.30" fill="rgb(51,51,51)" filter="url(#b6)"/>
<rect x="434.80" y="100.90" width="7.20" height="2.60" rx="1.30" fill="rgb(64,64,64)" filter="url(#b6)"/>
<rect x="444.40" y="100.90" width="7.20" height="2.60" rx="1.30" fill="rgb(204,204,204)" filter="url(#b6)"/>
<rect x="454.00" y="100.90" width="7.20" height="2.60" rx="1.30" fill="rgb(102,102,102)" filter="url(#b6)"/>
<rect x="463.60" y="100.90" width="7.20" height="2.60" rx="1.30" fill="rgb(204,204,204)" filter="url(#b6)"/>
<rect x="329.10" y="115.50" width="7.40" height="13.00" rx="3.70" fill="rgb(224,224,224)" filter="url(#b10)"/>
<rect x="338.70" y="115.50" width="7.40" height="13.00" rx="3.70" fill="rgb(224,224,224)" filter="url(#b10)"/>
<rect x="348.30" y="115.50" width="7.40" height="13.00" rx="3.70" fill="rgb(224,224,224)" filter="url(#b10)"/>
<rect x="357.90" y="115.50" width="7.40" height="13.00" rx="3.70" fill="rgb(204,204,204)" filter="url(#b10)"/>
<rect x="367.50" y="115.50" width="7.40" height="13.00" rx="3.70" fill="rgb(204,204,204)" filter="url(#b10)"/>
<rect x="377.10" y="115.50" width="7.40" height="13.00" rx="3.70" fill="rgb(204,204,204)" filter="url(#b10)"/>
<rect x="386.70" y="115.50" width="7.40" height="13.00" rx="3.70" fill="rgb(204,204,204)" filter="url(#b10)"/>
<rect x="396.30" y="115.50" width="7.40" height="13.00" rx="3.70" fill="rgb(204,204,204)" filter="url(#b10)"/>
<rect x="405.90" y="115.50" width="7.40" height="13.00" rx="3.70" fill="rgb(204,204,204)" filter="url(#b10)"/>
<rect x="415.50" y="115.50" width="7.40" height="13.00" rx="3.70" fill="rgb(204,204,204)" filter="url(#b10)"/>
<rect x="425.10" y="115.50" width="7.40" height="13.00" rx="3.70" fill="rgb(204,204,204)" filter="url(#b10)"/>
<rect x="434.70" y="115.50" width="7.40" height="13.00" rx="3.70" fill="rgb(204,204,204)" filter="url(#b10)"/>
<rect x="444.30" y="115.50" width="7.40" height="13.00" rx="3.70" fill="rgb(204,204,204)" filter="url(#b10)"/>
<rect x="453.90" y="115.50" width="7.40" height="13.00" rx="3.70" fill="rgb(204,204,204)" filter="url(#b10)"/>
<rect x="463.50" y="115.50" width="7.40" height="13.00" rx="3.70" fill="rgb(204,204,204)" filter="url(#b10)"/>
<rect x="329.40" y="111.20" width="6.80" height="1.60" rx="0.80" fill="rgb(235,235,235)" filter="url(#b6)"/>
<rect x="339.00" y="111.20" width="6.80" height="1.60" rx="0.80" fill="rgb(230,230,230)" filter="url(#b6)"/>
<rect x="348.60" y="111.20" width="6.80" height="1.60" rx="0.80" fill="rgb(217,217,217)" filter="url(#b6)"/>
<rect x="358.20" y="111.20" width="6.80" height="1.60" rx="0.80" fill="rgb(217,217,217)" filter="url(#b6)"/>
<rect x="367.80" y="111.20" width="6.80" height="1.60" rx="0.80" fill="rgb(204,204,204)" filter="url(#b6)"/>
<rect x="377.40" y="111.20" width="6.80" height="1.60" rx="0.80" fill="rgb(224,224,224)" filter="url(#b6)"/>
<rect x="387.00" y="111.20" width="6.80" height="1.60" rx="0.80" fill="rgb(204,204,204)" filter="url(#b6)"/>
<rect x="396.60" y="111.20" width="6.80" height="1.60" rx="0.80" fill="rgb(217,217,217)" filter="url(#b6)"/>
<rect x="406.20" y="111.20" width="6.80" height="1.60" rx="0.80" fill="rgb(217,217,217)" filter="url(#b6)"/>
<rect x="415.80" y="111.20" width="6.80" height="1.60" rx="0.80" fill="rgb(204,204,204)" filter="url(#b6)"/>
<rect x="425.40" y="111.20" width="6.80" height="1.60" rx="0.80" fill="rgb(204,204,204)" filter="url(#b6)"/>
<rect x="435.00" y="111.20" width="6.80" height="1.60" rx="0.80" fill="rgb(204,204,204)" filter="url(#b6)"/>
<rect x="444.60" y="111.20" width="6.80" height="1.60" rx="0.80" fill="rgb(204,204,204)" filter="url(#b6)"/>
<rect x="454.20" y="111.20" width="6.80" height="1.60" rx="0.80" fill="rgb(204,204,204)" filter="url(#b6)"/>
<rect x="463.80" y="111.20" width="6.80" height="1.60" rx="0.80" fill="rgb(13,13,13)" filter="url(#b6)"/>
<rect x="329.20" y="115.80" width="7.20" height="2.80" rx="1.40" fill="rgb(128,128,128)" filter="url(#b6)"/>
<rect x="338.80" y="115.80" width="7.20" height="2.80" rx="1.40" fill="rgb(153,153,153)" filter="url(#b6)"/>
<rect x="348.40" y="115.80" width="7.20" height="2.80" rx="1.40" fill="rgb(153,153,153)" filter="url(#b6)"/>
<rect x="358.00" y="115.80" width="7.20" height="2.80" rx="1.40" fill="rgb(89,89,89)" filter="url(#b6)"/>
<rect x="367.60" y="115.80" width="7.20" height="2.80" rx="1.40" fill="rgb(13,13,13)" filter="url(#b6)"/>
<rect x="377.20" y="115.80" width="7.20" height="2.80" rx="1.40" fill="rgb(102,102,102)" filter="url(#b6)"/>
<rect x="386.80" y="115.80" width="7.20" height="2.80" rx="1.40" fill="rgb(0,0,0)" filter="url(#b6)"/>
<rect x="396.40" y="115.80" width="7.20" height="2.80" rx="1.40" fill="rgb(102,102,102)" filter="url(#b6)"/>
<rect x="406.00" y="115.80" width="7.20" height="2.80" rx="1.40" fill="rgb(64,64,64)" filter="url(#b6)"/>
<rect x="415.60" y="115.80" width="7.20" height="2.80" rx="1.40" fill="rgb(51,51,51)" filter="url(#b6)"/>
<rect x="425.20" y="115.80" width="7.20" height="2.80" rx="1.40" fill="rgb(25,25,25)" filter="url(#b6)"/>
<rect x="434.80" y="115.80" width="7.20" height="2.80" rx="1.40" fill="rgb(38,38,38)" filter="url(#b6)"/>
<rect x="444.40" y="115.80" width="7.20" height="2.80" rx="1.40" fill="rgb(64,64,64)" filter="url(#b6)"/>
<rect x="454.00" y="115.80" width="7.20" height="2.80" rx="1.40" fill="rgb(25,25,25)" filter="url(#b6)"/>
<rect x="463.60" y="115.80" width="7.20" height="2.80" rx="1.40" fill="rgb(0,0,0)" filter="url(#b6)"/>
<rect x="329.20" y="120.10" width="7.20" height="2.80" rx="1.40" fill="rgb(128,128,128)" filter="url(#b6)"/>
<rect x="338.80" y="120.10" width="7.20" height="2.80" rx="1.40" fill="rgb(153,153,153)" filter="url(#b6)"/>
<rect x="348.40" y="120.10" width="7.20" height="2.80" rx="1.40" fill="rgb(89,89,89)" filter="url(#b6)"/>
<rect x="358.00" y="120.10" width="7.20" height="2.80" rx="1.40" fill="rgb(77,77,77)" filter="url(#b6)"/>
<rect x="367.60" y="120.10" width="7.20" height="2.80" rx="1.40" fill="rgb(51,51,51)" filter="url(#b6)"/>
<rect x="377.20" y="120.10" width="7.20" height="2.80" rx="1.40" fill="rgb(178,178,178)" filter="url(#b6)"/>
<rect x="386.80" y="120.10" width="7.20" height="2.80" rx="1.40" fill="rgb(0,0,0)" filter="url(#b6)"/>
<rect x="396.40" y="120.10" width="7.20" height="2.80" rx="1.40" fill="rgb(102,102,102)" filter="url(#b6)"/>
<rect x="406.00" y="120.10" width="7.20" height="2.80" rx="1.40" fill="rgb(64,64,64)" filter="url(#b6)"/>
<rect x="415.60" y="120.10" width="7.20" height="2.80" rx="1.40" fill="rgb(0,0,0)" filter="url(#b6)"/>
<rect x="425.20" y="120.10" width="7.20" height="2.80" rx="1.40" fill="rgb(77,77,77)" filter="url(#b6)"/>
<rect x="434.80" y="120.10" width="7.20" height="2.80" rx="1.40" fill="rgb(38,38,38)" filter="url(#b6)"/>
<rect x="444.40" y="120.10" width="7.20" height="2.80" rx="1.40" fill="rgb(51,51,51)" filter="url(#b6)"/>
<rect x="454.00" y="120.10" width="7.20" height="2.80" rx="1.40" fill="rgb(64,64,64)" filter="url(#b6)"/>
<rect x="463.60" y="120.10" width="7.20" height="2.80" rx="1.40" fill="rgb(0,0,0)" filter="url(#b6)"/>
<rect x="329.20" y="126.20" width="7.20" height="2.80" rx="1.40" fill="rgb(115,115,115)" filter="url(#b6)"/>
<rect x="338.80" y="126.20" width="7.20" height="2.80" rx="1.40" fill="rgb(153,153,153)" filter="url(#b6)"/>
<rect x="348.40" y="126.20" width="7.20" height="2.80" rx="1.40" fill="rgb(115,115,115)" filter="url(#b6)"/>
<rect x="358.00" y="126.20" width="7.20" height="2.80" rx="1.40" fill="rgb(38,38,38)" filter="url(#b6)"/>
<rect x="367.60" y="126.20" width="7.20" height="2.80" rx="1.40" fill="rgb(25,25,25)" filter="url(#b6)"/>
<rect x="377.20" y="126.20" width="7.20" height="2.80" rx="1.40" fill="rgb(217,217,217)" filter="url(#b6)"/>
<rect x="386.80" y="126.20" width="7.20" height="2.80" rx="1.40" fill="rgb(102,102,102)" filter="url(#b6)"/>
<rect x="396.40" y="126.20" width="7.20" height="2.80" rx="1.40" fill="rgb(153,153,153)" filter="url(#b6)"/>
<rect x="406.00" y="126.20" width="7.20" height="2.80" rx="1.40" fill="rgb(102,102,102)" filter="url(#b6)"/>
<rect x="415.60" y="126.20" width="7.20" height="2.80" rx="1.40" fill="rgb(77,77,77)" filter="url(#b6)"/>
<rect x="425.20" y="126.20" width="7.20" height="2.80" rx="1.40" fill="rgb(153,153,153)" filter="url(#b6)"/>
<rect x="434.80" y="126.20" width="7.20" height="2.80" rx="1.40" fill="rgb(102,102,102)" filter="url(#b6)"/>
<rect x="444.40" y="126.20" width="7.20" height="2.80" rx="1.40" fill="rgb(25,25,25)" filter="url(#b6)"/>
<rect x="454.00" y="126.20" width="7.20" height="2.80" rx="1.40" fill="rgb(25,25,25)" filter="url(#b6)"/>
<rect x="463.60" y="126.20" width="7.20" height="2.80" rx="1.40" fill="rgb(0,0,0)" filter="url(#b6)"/>
<rect x="463.40" y="116.80" width="7.60" height="6.40" rx="3.20" fill="rgb(0,0,0)" filter="url(#b6)"/>
<rect x="463.40" y="124.90" width="7.60" height="3.80" rx="1.90" fill="rgb(0,0,0)" filter="url(#b6)"/>
<rect x="328.50" y="139.30" width="8.60" height="6.20" rx="3.10" fill="rgb(0,0,0)" filter="url(#b5)"/>
<rect x="338.10" y="139.30" width="8.60" height="6.20" rx="3.10" fill="rgb(0,0,0)" filter="url(#b5)"/>
<rect x="347.70" y="139.30" width="8.60" height="6.20" rx="3.10" fill="rgb(0,0,0)" filter="url(#b5)"/>
<rect x="357.30" y="139.30" width="8.60" height="6.20" rx="3.10" fill="rgb(0,0,0)" filter="url(#b5)"/>
<rect x="366.90" y="139.30" width="8.60" height="6.20" rx="3.10" fill="rgb(0,0,0)" filter="url(#b5)"/>
<rect x="376.50" y="139.30" width="8.60" height="6.20" rx="3.10" fill="rgb(0,0,0)" filter="url(#b5)"/>
<rect x="386.10" y="139.30" width="8.60" height="6.20" rx="3.10" fill="rgb(0,0,0)" filter="url(#b5)"/>
<rect x="395.70" y="139.30" width="8.60" height="6.20" rx="3.10" fill="rgb(0,0,0)" filter="url(#b5)"/>
<rect x="405.30" y="139.30" width="8.60" height="6.20" rx="3.10" fill="rgb(0,0,0)" filter="url(#b5)"/>
<rect x="414.90" y="139.30" width="8.60" height="6.20" rx="3.10" fill="rgb(0,0,0)" filter="url(#b5)"/>
<rect x="424.50" y="139.30" width="8.60" height="6.20" rx="3.10" fill="rgb(0,0,0)" filter="url(#b5)"/>
<rect x="434.10" y="139.30" width="8.60" height="6.20" rx="3.10" fill="rgb(0,0,0)" filter="url(#b5)"/>
<rect x="443.70" y="139.30" width="8.60" height="6.20" rx="3.10" fill="rgb(0,0,0)" filter="url(#b5)"/>
<rect x="453.30" y="139.30" width="8.60" height="6.20" rx="3.10" fill="rgb(0,0,0)" filter="url(#b5)"/>
<rect x="462.90" y="139.30" width="8.60" height="6.20" rx="3.10" fill="rgb(0,0,0)" filter="url(#b5)"/>
<rect x="328.50" y="35.50" width="144.20" height="7.20" fill="none" stroke="#c8c8c8" stroke-width="0.8"/>
<rect x="327.60" y="43.40" width="146.00" height="1.3" fill="#9a9a9a"/>
<rect x="328.50" y="46.40" width="144.20" height="6.20" fill="none" stroke="#c8c8c8" stroke-width="0.8"/>
<rect x="327.60" y="53.30" width="146.00" height="1.3" fill="#9a9a9a"/>
<rect x="328.50" y="56.00" width="144.20" height="6.80" fill="none" stroke="#c8c8c8" stroke-width="0.8"/>
<rect x="327.60" y="63.50" width="146.00" height="1.3" fill="#9a9a9a"/>
<rect x="328.50" y="66.40" width="144.20" height="8.10" fill="none" stroke="#c8c8c8" stroke-width="0.8"/>
<rect x="327.60" y="75.20" width="146.00" height="1.3" fill="#9a9a9a"/>
<rect x="328.50" y="78.30" width="144.20" height="13.40" fill="none" stroke="#c8c8c8" stroke-width="0.8"/>
<rect x="327.60" y="92.40" width="146.00" height="1.3" fill="#9a9a9a"/>
<rect x="328.50" y="95.90" width="144.20" height="9.50" fill="none" stroke="#c8c8c8" stroke-width="0.8"/>
<rect x="327.60" y="106.10" width="146.00" height="1.3" fill="#9a9a9a"/>
<rect x="328.50" y="108.10" width="144.20" height="25.30" fill="none" stroke="#c8c8c8" stroke-width="0.8"/>
<rect x="327.60" y="134.10" width="146.00" height="1.3" fill="#9a9a9a"/>
<rect x="328.50" y="137.80" width="144.20" height="9.50" fill="none" stroke="#c8c8c8" stroke-width="0.8"/>
<rect x="327.60" y="148.00" width="146.00" height="1.3" fill="#9a9a9a"/>
<line x1="356.40" y1="28.30" x2="356.40" y2="148.20" stroke="#777" stroke-width="0.55" />
<line x1="385.80" y1="28.30" x2="385.80" y2="148.20" stroke="#777" stroke-width="0.55" />
<line x1="415.10" y1="28.30" x2="415.10" y2="148.20" stroke="#777" stroke-width="0.55" />
<line x1="444.50" y1="28.30" x2="444.50" y2="148.20" stroke="#777" stroke-width="0.55" />
<text transform="translate(475.00,41.00) scale(0.93,1)" x="0" y="0" font-size="6.5" text-anchor="start" font-weight="normal" fill="#000" stroke="#000" >cIAP1</text>
<text transform="translate(475.00,50.10) scale(0.93,1)" x="0" y="0" font-size="6.5" text-anchor="start" font-weight="normal" fill="#000" stroke="#000" >cIAP2</text>
<text transform="translate(475.00,61.10) scale(0.93,1)" x="0" y="0" font-size="6.5" text-anchor="start" font-weight="normal" fill="#000" stroke="#000" >XIAP</text>
<text transform="translate(475.00,72.00) scale(0.93,1)" x="0" y="0" font-size="6.5" text-anchor="start" font-weight="normal" fill="#000" stroke="#000" >Cl. PARP</text>
<text transform="translate(475.00,86.80) scale(0.93,1)" x="0" y="0" font-size="6.5" text-anchor="start" font-weight="normal" fill="#000" stroke="#000" >Total PARP</text>
<text transform="translate(475.00,99.00) scale(0.93,1)" x="0" y="0" font-size="6.5" text-anchor="start" font-weight="normal" fill="#000" stroke="#000" >Cl. caspase-8</text>
<text transform="translate(475.00,122.70) scale(0.93,1)" x="0" y="0" font-size="6.5" text-anchor="start" font-weight="normal" fill="#000" stroke="#000" >Cl. caspase-3</text>
<text x="475.00" y="103.80" font-size="4.4" text-anchor="start" font-weight="normal" fill="#000" stroke="#000" >[p43/p41]</text>
<text x="475.00" y="144.40" font-size="5.8" text-anchor="start" font-weight="normal" fill="#000" stroke="#000" ><tspan font-weight="bold">β</tspan>-Actin</text>
<text x="8.00" y="187.00" font-size="10.5" text-anchor="start" font-weight="bold" fill="#000" stroke="#000" >D</text>
<text x="42.30" y="197.50" font-size="8.8" text-anchor="start" font-weight="bold" fill="#000" stroke="#000" textLength="114.5" lengthAdjust="spacingAndGlyphs">BW5147 Syngeneic model</text>
<line x1="39.90" y1="209.80" x2="39.90" y2="327.50" stroke="#000" stroke-width="1.15" />
<line x1="39.30" y1="327.00" x2="187.30" y2="327.00" stroke="#000" stroke-width="1.15" />
<line x1="37.20" y1="327.00" x2="39.90" y2="327.00" stroke="#000" stroke-width="1" />
<text x="33.50" y="329.50" font-size="7.4" text-anchor="end" font-weight="normal" fill="#000" stroke="#000" >0</text>
<line x1="37.20" y1="297.85" x2="39.90" y2="297.85" stroke="#000" stroke-width="1" />
<text x="33.50" y="300.35" font-size="7.4" text-anchor="end" font-weight="normal" fill="#000" stroke="#000" >200</text>
<line x1="37.20" y1="268.70" x2="39.90" y2="268.70" stroke="#000" stroke-width="1" />
<text x="33.50" y="271.20" font-size="7.4" text-anchor="end" font-weight="normal" fill="#000" stroke="#000" >400</text>
<line x1="37.20" y1="239.55" x2="39.90" y2="239.55" stroke="#000" stroke-width="1" />
<text x="33.50" y="242.05" font-size="7.4" text-anchor="end" font-weight="normal" fill="#000" stroke="#000" >600</text>
<line x1="37.20" y1="210.40" x2="39.90" y2="210.40" stroke="#000" stroke-width="1" />
<text x="33.50" y="212.90" font-size="7.4" text-anchor="end" font-weight="normal" fill="#000" stroke="#000" >800</text>
<line x1="39.90" y1="327.00" x2="39.90" y2="329.80" stroke="#000" stroke-width="1" />
<text x="39.90" y="338.20" font-size="7.4" text-anchor="middle" font-weight="normal" fill="#000" stroke="#000" >0</text>
<line x1="56.16" y1="327.00" x2="56.16" y2="329.80" stroke="#000" stroke-width="1" />
<text x="56.16" y="338.20" font-size="7.4" text-anchor="middle" font-weight="normal" fill="#000" stroke="#000" >5</text>
<line x1="72.43" y1="327.00" x2="72.43" y2="329.80" stroke="#000" stroke-width="1" />
<text x="72.43" y="338.20" font-size="7.4" text-anchor="middle" font-weight="normal" fill="#000" stroke="#000" >10</text>
<line x1="88.69" y1="327.00" x2="88.69" y2="329.80" stroke="#000" stroke-width="1" />
<text x="88.69" y="338.20" font-size="7.4" text-anchor="middle" font-weight="normal" fill="#000" stroke="#000" >15</text>
<line x1="104.96" y1="327.00" x2="104.96" y2="329.80" stroke="#000" stroke-width="1" />
<text x="104.96" y="338.20" font-size="7.4" text-anchor="middle" font-weight="normal" fill="#000" stroke="#000" >20</text>
<line x1="121.22" y1="327.00" x2="121.22" y2="329.80" stroke="#000" stroke-width="1" />
<text x="121.22" y="338.20" font-size="7.4" text-anchor="middle" font-weight="normal" fill="#000" stroke="#000" >25</text>
<line x1="137.49" y1="327.00" x2="137.49" y2="329.80" stroke="#000" stroke-width="1" />
<text x="137.49" y="338.20" font-size="7.4" text-anchor="middle" font-weight="normal" fill="#000" stroke="#000" >30</text>
<line x1="153.75" y1="327.00" x2="153.75" y2="329.80" stroke="#000" stroke-width="1" />
<text x="153.75" y="338.20" font-size="7.4" text-anchor="middle" font-weight="normal" fill="#000" stroke="#000" >35</text>
<line x1="170.02" y1="327.00" x2="170.02" y2="329.80" stroke="#000" stroke-width="1" />
<text x="170.02" y="338.20" font-size="7.4" text-anchor="middle" font-weight="normal" fill="#000" stroke="#000" >40</text>
<line x1="186.28" y1="327.00" x2="186.28" y2="329.80" stroke="#000" stroke-width="1" />
<text x="186.28" y="338.20" font-size="7.4" text-anchor="middle" font-weight="normal" fill="#000" stroke="#000" >45</text>
<text x="112.60" y="349.50" font-size="7.0" text-anchor="middle" font-weight="normal" fill="#000" stroke="#000" >Time (days)</text>
<text transform="translate(16.00,269.20) rotate(-90)" x="0" y="0" font-size="9.4" text-anchor="middle" stroke="#000" textLength="60" lengthAdjust="spacingAndGlyphs">Tumor volume (mm<tspan font-size="6.58" dy="-3.29">3</tspan><tspan dy="3.29">)</tspan></text>
<path d="M43.15,315.34 L52.91,296.39 L56.16,292.02 L59.42,287.94 L62.67,288.81 C70.80,292.75 72.43,306.60 75.68,312.86 C80.56,321.17 83.82,326.27 88.69,327.00 L186.28,327.00" fill="none" stroke="#0b2fb5" stroke-width="1.5" stroke-linejoin="round"/>
<line x1="43.15" y1="313.84" x2="43.15" y2="316.84" stroke="#0b2fb5" stroke-width="1.0" />
<line x1="41.65" y1="313.84" x2="44.65" y2="313.84" stroke="#0b2fb5" stroke-width="1.0" />
<line x1="41.65" y1="316.84" x2="44.65" y2="316.84" stroke="#0b2fb5" stroke-width="1.0" />
<rect x="42.15" y="314.34" width="2.0" height="2.0" fill="#0b2fb5"/>
<line x1="52.91" y1="293.39" x2="52.91" y2="299.39" stroke="#0b2fb5" stroke-width="1.0" />
<line x1="51.41" y1="293.39" x2="54.41" y2="293.39" stroke="#0b2fb5" stroke-width="1.0" />
<line x1="51.41" y1="299.39" x2="54.41" y2="299.39" stroke="#0b2fb5" stroke-width="1.0" />
<rect x="51.91" y="295.39" width="2.0" height="2.0" fill="#0b2fb5"/>
<line x1="56.16" y1="287.52" x2="56.16" y2="296.52" stroke="#0b2fb5" stroke-width="1.0" />
<line x1="54.66" y1="287.52" x2="57.66" y2="287.52" stroke="#0b2fb5" stroke-width="1.0" />
<line x1="54.66" y1="296.52" x2="57.66" y2="296.52" stroke="#0b2fb5" stroke-width="1.0" />
<rect x="55.16" y="291.02" width="2.0" height="2.0" fill="#0b2fb5"/>
<line x1="59.42" y1="282.94" x2="59.42" y2="292.94" stroke="#0b2fb5" stroke-width="1.0" />
<line x1="57.92" y1="282.94" x2="60.92" y2="282.94" stroke="#0b2fb5" stroke-width="1.0" />
<line x1="57.92" y1="292.94" x2="60.92" y2="292.94" stroke="#0b2fb5" stroke-width="1.0" />
<rect x="58.42" y="286.94" width="2.0" height="2.0" fill="#0b2fb5"/>
<line x1="62.67" y1="283.81" x2="62.67" y2="293.81" stroke="#0b2fb5" stroke-width="1.0" />
<line x1="61.17" y1="283.81" x2="64.17" y2="283.81" stroke="#0b2fb5" stroke-width="1.0" />
<line x1="61.17" y1="293.81" x2="64.17" y2="293.81" stroke="#0b2fb5" stroke-width="1.0" />
<rect x="61.67" y="287.81" width="2.0" height="2.0" fill="#0b2fb5"/>
<line x1="65.92" y1="285.56" x2="65.92" y2="295.56" stroke="#0b2fb5" stroke-width="1.0" />
<line x1="64.42" y1="285.56" x2="67.42" y2="285.56" stroke="#0b2fb5" stroke-width="1.0" />
<line x1="64.42" y1="295.56" x2="67.42" y2="295.56" stroke="#0b2fb5" stroke-width="1.0" />
<rect x="64.92" y="289.56" width="2.0" height="2.0" fill="#0b2fb5"/>
<line x1="75.68" y1="310.36" x2="75.68" y2="315.36" stroke="#0b2fb5" stroke-width="1.0" />
<line x1="74.18" y1="310.36" x2="77.18" y2="310.36" stroke="#0b2fb5" stroke-width="1.0" />
<line x1="74.18" y1="315.36" x2="77.18" y2="315.36" stroke="#0b2fb5" stroke-width="1.0" />
<rect x="74.68" y="311.86" width="2.0" height="2.0" fill="#0b2fb5"/>
<line x1="82.19" y1="320.63" x2="82.19" y2="324.63" stroke="#0b2fb5" stroke-width="1.0" />
<line x1="80.69" y1="320.63" x2="83.69" y2="320.63" stroke="#0b2fb5" stroke-width="1.0" />
<line x1="80.69" y1="324.63" x2="83.69" y2="324.63" stroke="#0b2fb5" stroke-width="1.0" />
<rect x="81.19" y="321.63" width="2.0" height="2.0" fill="#0b2fb5"/>
<polyline points="43.15,317.53 52.91,305.14 56.16,289.83 59.42,275.26 62.67,257.33 64.30,251.94 65.92,245.67" fill="none" stroke="#d00a1c" stroke-width="1.5" stroke-linejoin="round" stroke-linecap="round" />
<line x1="43.15" y1="315.53" x2="43.15" y2="319.53" stroke="#d00a1c" stroke-width="1.0" />
<line x1="41.65" y1="315.53" x2="44.65" y2="315.53" stroke="#d00a1c" stroke-width="1.0" />
<line x1="41.65" y1="319.53" x2="44.65" y2="319.53" stroke="#d00a1c" stroke-width="1.0" />
<circle cx="43.15" cy="317.53" r="1.1" fill="#d00a1c"/>
<line x1="52.91" y1="302.14" x2="52.91" y2="308.14" stroke="#d00a1c" stroke-width="1.0" />
<line x1="51.41" y1="302.14" x2="54.41" y2="302.14" stroke="#d00a1c" stroke-width="1.0" />
<line x1="51.41" y1="308.14" x2="54.41" y2="308.14" stroke="#d00a1c" stroke-width="1.0" />
<circle cx="52.91" cy="305.14" r="1.1" fill="#d00a1c"/>
<line x1="56.16" y1="286.83" x2="56.16" y2="292.83" stroke="#d00a1c" stroke-width="1.0" />
<line x1="54.66" y1="286.83" x2="57.66" y2="286.83" stroke="#d00a1c" stroke-width="1.0" />
<line x1="54.66" y1="292.83" x2="57.66" y2="292.83" stroke="#d00a1c" stroke-width="1.0" />
<circle cx="56.16" cy="289.83" r="1.1" fill="#d00a1c"/>
<line x1="59.42" y1="272.26" x2="59.42" y2="278.26" stroke="#d00a1c" stroke-width="1.0" />
<line x1="57.92" y1="272.26" x2="60.92" y2="272.26" stroke="#d00a1c" stroke-width="1.0" />
<line x1="57.92" y1="278.26" x2="60.92" y2="278.26" stroke="#d00a1c" stroke-width="1.0" />
<circle cx="59.42" cy="275.26" r="1.1" fill="#d00a1c"/>
<line x1="62.67" y1="253.33" x2="62.67" y2="261.33" stroke="#d00a1c" stroke-width="1.0" />
<line x1="61.17" y1="253.33" x2="64.17" y2="253.33" stroke="#d00a1c" stroke-width="1.0" />
<line x1="61.17" y1="261.33" x2="64.17" y2="261.33" stroke="#d00a1c" stroke-width="1.0" />
<circle cx="62.67" cy="257.33" r="1.1" fill="#d00a1c"/>
<line x1="64.30" y1="247.94" x2="64.30" y2="255.94" stroke="#d00a1c" stroke-width="1.0" />
<line x1="62.80" y1="247.94" x2="65.80" y2="247.94" stroke="#d00a1c" stroke-width="1.0" />
<line x1="62.80" y1="255.94" x2="65.80" y2="255.94" stroke="#d00a1c" stroke-width="1.0" />
<circle cx="64.30" cy="251.94" r="1.1" fill="#d00a1c"/>
<line x1="65.92" y1="240.17" x2="65.92" y2="251.17" stroke="#d00a1c" stroke-width="1.0" />
<line x1="64.42" y1="240.17" x2="67.42" y2="240.17" stroke="#d00a1c" stroke-width="1.0" />
<line x1="64.42" y1="251.17" x2="67.42" y2="251.17" stroke="#d00a1c" stroke-width="1.0" />
<circle cx="65.92" cy="245.67" r="1.1" fill="#d00a1c"/>
<line x1="101.71" y1="325.40" x2="101.71" y2="328.80" stroke="#0b2fb5" stroke-width="1.0" />
<line x1="104.96" y1="325.40" x2="104.96" y2="328.80" stroke="#0b2fb5" stroke-width="1.0" />
<line x1="121.22" y1="325.40" x2="121.22" y2="328.80" stroke="#0b2fb5" stroke-width="1.0" />
<line x1="137.49" y1="325.40" x2="137.49" y2="328.80" stroke="#0b2fb5" stroke-width="1.0" />
<line x1="153.75" y1="325.40" x2="153.75" y2="328.80" stroke="#0b2fb5" stroke-width="1.0" />
<line x1="170.02" y1="325.40" x2="170.02" y2="328.80" stroke="#0b2fb5" stroke-width="1.0" />
<line x1="186.28" y1="325.40" x2="186.28" y2="328.80" stroke="#0b2fb5" stroke-width="1.0" />
<line x1="46.20" y1="214.80" x2="54.50" y2="214.80" stroke="#d00a1c" stroke-width="1.5" />
<circle cx="50.30" cy="214.80" r="1.6" fill="#d00a1c"/>
<text x="58.20" y="216.70" font-size="5.9" text-anchor="start" font-weight="normal" fill="#000" stroke="#000" >Vehicle</text>
<line x1="46.20" y1="222.00" x2="54.50" y2="222.00" stroke="#0b2fb5" stroke-width="1.5" />
<rect x="48.90" y="220.60" width="2.8" height="2.8" fill="#0b2fb5"/>
<text x="58.20" y="223.90" font-size="5.95" text-anchor="start" font-weight="normal" fill="#000" stroke="#000" >Tolinapant (25 mg/kg, po, qd)</text>
<text x="90.00" y="298.70" font-size="5.7" text-anchor="middle" font-weight="normal" fill="#000" stroke="#000" >Treatment</text>
<text x="89.80" y="306.10" font-size="5.7" text-anchor="middle" font-weight="normal" fill="#000" stroke="#000" >stopped</text>
<line x1="88.40" y1="309.80" x2="88.40" y2="319.00" stroke="#000" stroke-width="0.9" />
<path d="M86.6,317.6 L88.4,322.0 L90.2,317.6 Z" fill="#000"/>
<text x="197.30" y="180.30" font-size="10.5" text-anchor="start" font-weight="bold" fill="#000" stroke="#000" >E</text>
<line x1="227.40" y1="189.80" x2="227.40" y2="255.60" stroke="#000" stroke-width="1.1" />
<line x1="226.90" y1="255.00" x2="309.60" y2="255.00" stroke="#000" stroke-width="1.1" />
<line x1="223.60" y1="255.00" x2="227.40" y2="255.00" stroke="#000" stroke-width="0.9" />
<text x="222.00" y="257.00" font-size="5.9" text-anchor="end" font-weight="normal" fill="#000" stroke="#000" >0</text>
<line x1="223.60" y1="242.05" x2="227.40" y2="242.05" stroke="#000" stroke-width="0.9" />
<text x="222.00" y="244.05" font-size="5.9" text-anchor="end" font-weight="normal" fill="#000" stroke="#000" >200</text>
<line x1="223.60" y1="229.10" x2="227.40" y2="229.10" stroke="#000" stroke-width="0.9" />
<text x="222.00" y="231.10" font-size="5.9" text-anchor="end" font-weight="normal" fill="#000" stroke="#000" >400</text>
<line x1="223.60" y1="216.15" x2="227.40" y2="216.15" stroke="#000" stroke-width="0.9" />
<text x="222.00" y="218.15" font-size="5.9" text-anchor="end" font-weight="normal" fill="#000" stroke="#000" >600</text>
<line x1="223.60" y1="203.20" x2="227.40" y2="203.20" stroke="#000" stroke-width="0.9" />
<text x="222.00" y="205.20" font-size="5.9" text-anchor="end" font-weight="normal" fill="#000" stroke="#000" >800</text>
<line x1="223.60" y1="190.25" x2="227.40" y2="190.25" stroke="#000" stroke-width="0.9" />
<text x="222.00" y="192.25" font-size="5.9" text-anchor="end" font-weight="normal" fill="#000" stroke="#000" >1000</text>
<line x1="227.40" y1="255.00" x2="227.40" y2="257.60" stroke="#000" stroke-width="0.9" />
<text x="227.40" y="265.00" font-size="5.9" text-anchor="middle" font-weight="normal" fill="#000" stroke="#000" >0</text>
<line x1="241.03" y1="255.00" x2="241.03" y2="257.60" stroke="#000" stroke-width="0.9" />
<text x="241.03" y="265.00" font-size="5.9" text-anchor="middle" font-weight="normal" fill="#000" stroke="#000" >5</text>
<line x1="254.67" y1="255.00" x2="254.67" y2="257.60" stroke="#000" stroke-width="0.9" />
<text x="254.67" y="265.00" font-size="5.9" text-anchor="middle" font-weight="normal" fill="#000" stroke="#000" >10</text>
<line x1="268.31" y1="255.00" x2="268.31" y2="257.60" stroke="#000" stroke-width="0.9" />
<text x="268.31" y="265.00" font-size="5.9" text-anchor="middle" font-weight="normal" fill="#000" stroke="#000" >15</text>
<line x1="281.94" y1="255.00" x2="281.94" y2="257.60" stroke="#000" stroke-width="0.9" />
<text x="281.94" y="265.00" font-size="5.9" text-anchor="middle" font-weight="normal" fill="#000" stroke="#000" >20</text>
<line x1="295.57" y1="255.00" x2="295.57" y2="257.60" stroke="#000" stroke-width="0.9" />
<text x="295.57" y="265.00" font-size="5.9" text-anchor="middle" font-weight="normal" fill="#000" stroke="#000" >25</text>
<line x1="309.21" y1="255.00" x2="309.21" y2="257.60" stroke="#000" stroke-width="0.9" />
<text x="309.21" y="265.00" font-size="5.9" text-anchor="middle" font-weight="normal" fill="#000" stroke="#000" >30</text>
<text x="268.20" y="272.30" font-size="5.7" text-anchor="middle" font-weight="normal" fill="#000" stroke="#000" >Time (days)</text>
<text transform="translate(205.40,223.00) rotate(-90)" x="0" y="0" font-size="5.8" text-anchor="middle" stroke="#000" textLength="54" lengthAdjust="spacingAndGlyphs">Tumor volume (mm<tspan font-size="4.06" dy="-2.03">3</tspan><tspan dy="2.03">)</tspan></text>
<polyline points="227.40,251.12 238.31,243.34 243.76,233.63 247.31,202.23 250.03,201.91" fill="none" stroke="#d00a1c" stroke-width="1.25" stroke-linejoin="round" stroke-linecap="round" />
<polyline points="227.40,247.23 238.31,240.11 242.40,235.57 246.49,203.20 249.22,202.42" fill="none" stroke="#d00a1c" stroke-width="1.25" stroke-linejoin="round" stroke-linecap="round" />
<polyline points="227.40,249.17 235.58,244.64 241.03,238.16 249.22,208.38" fill="none" stroke="#d00a1c" stroke-width="1.25" stroke-linejoin="round" stroke-linecap="round" />
<polyline points="227.40,245.94 238.31,238.81 243.76,232.34 249.76,212.91" fill="none" stroke="#d00a1c" stroke-width="1.25" stroke-linejoin="round" stroke-linecap="round" />
<polyline points="227.40,251.76 235.58,247.23 241.03,240.11 248.67,216.15" fill="none" stroke="#d00a1c" stroke-width="1.25" stroke-linejoin="round" stroke-linecap="round" />
<polyline points="227.40,248.53 238.31,242.05 243.76,235.57 250.03,218.74" fill="none" stroke="#d00a1c" stroke-width="1.25" stroke-linejoin="round" stroke-linecap="round" />
<polyline points="227.40,245.29 238.31,236.87 242.40,234.28 249.22,221.33" fill="none" stroke="#d00a1c" stroke-width="1.25" stroke-linejoin="round" stroke-linecap="round" />
<polyline points="227.40,249.82 236.94,245.29 241.03,240.75 248.67,223.92" fill="none" stroke="#d00a1c" stroke-width="1.25" stroke-linejoin="round" stroke-linecap="round" />
<polyline points="227.40,252.41 238.31,243.99 243.76,237.52 249.76,225.86" fill="none" stroke="#d00a1c" stroke-width="1.25" stroke-linejoin="round" stroke-linecap="round" />
<polyline points="227.40,247.88 235.58,242.70 241.03,238.81 247.85,227.81" fill="none" stroke="#d00a1c" stroke-width="1.25" stroke-linejoin="round" stroke-linecap="round" />
<polyline points="228.76,253.06 238.31,248.53 241.03,242.05 249.22,229.10" fill="none" stroke="#d00a1c" stroke-width="1.25" stroke-linejoin="round" stroke-linecap="round" />
<polyline points="227.40,246.58 238.31,235.57 243.76,233.63 249.22,229.75" fill="none" stroke="#d00a1c" stroke-width="1.25" stroke-linejoin="round" stroke-linecap="round" />
<polyline points="227.40,249.82 238.31,250.47 241.03,242.05 249.22,225.86" fill="none" stroke="#d00a1c" stroke-width="1.25" stroke-linejoin="round" stroke-linecap="round" />
<polyline points="227.40,250.47 232.85,247.23 241.03,236.87 248.13,210.97" fill="none" stroke="#d00a1c" stroke-width="1.25" stroke-linejoin="round" stroke-linecap="round" />
<line x1="276.70" y1="246.30" x2="285.00" y2="246.30" stroke="#d00a1c" stroke-width="1.1" />
<circle cx="280.80" cy="246.30" r="1.0" fill="#d00a1c"/>
<text x="288.30" y="248.10" font-size="5.9" text-anchor="start" font-weight="normal" fill="#000" stroke="#000" >Vehicle</text>
<line x1="228.10" y1="277.00" x2="228.10" y2="342.80" stroke="#000" stroke-width="1.1" />
<line x1="227.60" y1="342.20" x2="308.70" y2="342.20" stroke="#000" stroke-width="1.1" />
<line x1="224.40" y1="342.20" x2="228.10" y2="342.20" stroke="#000" stroke-width="0.9" />
<text x="223.30" y="344.20" font-size="5.9" text-anchor="end" font-weight="normal" fill="#000" stroke="#000" >0</text>
<line x1="224.40" y1="329.24" x2="228.10" y2="329.24" stroke="#000" stroke-width="0.9" />
<text x="223.30" y="331.24" font-size="5.9" text-anchor="end" font-weight="normal" fill="#000" stroke="#000" >100</text>
<line x1="224.40" y1="316.28" x2="228.10" y2="316.28" stroke="#000" stroke-width="0.9" />
<text x="223.30" y="318.28" font-size="5.9" text-anchor="end" font-weight="normal" fill="#000" stroke="#000" >200</text>
<line x1="224.40" y1="303.32" x2="228.10" y2="303.32" stroke="#000" stroke-width="0.9" />
<text x="223.30" y="305.32" font-size="5.9" text-anchor="end" font-weight="normal" fill="#000" stroke="#000" >300</text>
<line x1="224.40" y1="290.36" x2="228.10" y2="290.36" stroke="#000" stroke-width="0.9" />
<text x="223.30" y="292.36" font-size="5.9" text-anchor="end" font-weight="normal" fill="#000" stroke="#000" >400</text>
<line x1="224.40" y1="277.40" x2="228.10" y2="277.40" stroke="#000" stroke-width="0.9" />
<text x="223.30" y="279.40" font-size="5.9" text-anchor="end" font-weight="normal" fill="#000" stroke="#000" >500</text>
<line x1="228.10" y1="342.20" x2="228.10" y2="344.80" stroke="#000" stroke-width="0.9" />
<text x="228.10" y="351.40" font-size="5.9" text-anchor="middle" font-weight="normal" fill="#000" stroke="#000" >0</text>
<line x1="237.00" y1="342.20" x2="237.00" y2="344.80" stroke="#000" stroke-width="0.9" />
<text x="237.00" y="351.40" font-size="5.9" text-anchor="middle" font-weight="normal" fill="#000" stroke="#000" >5</text>
<line x1="245.90" y1="342.20" x2="245.90" y2="344.80" stroke="#000" stroke-width="0.9" />
<text x="245.90" y="351.40" font-size="5.9" text-anchor="middle" font-weight="normal" fill="#000" stroke="#000" >10</text>
<line x1="254.80" y1="342.20" x2="254.80" y2="344.80" stroke="#000" stroke-width="0.9" />
<text x="254.80" y="351.40" font-size="5.9" text-anchor="middle" font-weight="normal" fill="#000" stroke="#000" >15</text>
<line x1="263.70" y1="342.20" x2="263.70" y2="344.80" stroke="#000" stroke-width="0.9" />
<text x="263.70" y="351.40" font-size="5.9" text-anchor="middle" font-weight="normal" fill="#000" stroke="#000" >20</text>
<line x1="272.60" y1="342.20" x2="272.60" y2="344.80" stroke="#000" stroke-width="0.9" />
<text x="272.60" y="351.40" font-size="5.9" text-anchor="middle" font-weight="normal" fill="#000" stroke="#000" >25</text>
<line x1="281.50" y1="342.20" x2="281.50" y2="344.80" stroke="#000" stroke-width="0.9" />
<text x="281.50" y="351.40" font-size="5.9" text-anchor="middle" font-weight="normal" fill="#000" stroke="#000" >30</text>
<line x1="290.40" y1="342.20" x2="290.40" y2="344.80" stroke="#000" stroke-width="0.9" />
<text x="290.40" y="351.40" font-size="5.9" text-anchor="middle" font-weight="normal" fill="#000" stroke="#000" >35</text>
<line x1="299.30" y1="342.20" x2="299.30" y2="344.80" stroke="#000" stroke-width="0.9" />
<text x="299.30" y="351.40" font-size="5.9" text-anchor="middle" font-weight="normal" fill="#000" stroke="#000" >40</text>
<line x1="308.20" y1="342.20" x2="308.20" y2="344.80" stroke="#000" stroke-width="0.9" />
<text x="308.20" y="351.40" font-size="5.9" text-anchor="middle" font-weight="normal" fill="#000" stroke="#000" >45</text>
<text x="269.00" y="360.00" font-size="5.7" text-anchor="middle" font-weight="normal" fill="#000" stroke="#000" >Time (days)</text>
<text transform="translate(207.30,312.00) rotate(-90)" x="0" y="0" font-size="5.8" text-anchor="middle" stroke="#000" textLength="46" lengthAdjust="spacingAndGlyphs">Tumor volume (mm<tspan font-size="4.06" dy="-2.03">3</tspan><tspan dy="2.03">)</tspan></text>
<polyline points="228.10,335.72 234.86,290.36 240.56,316.28 248.57,342.20" fill="none" stroke="#0b2fb5" stroke-width="1.3" stroke-linejoin="round" stroke-linecap="round" />
<polyline points="228.10,329.24 235.22,309.80 241.45,285.18 245.90,309.80 251.24,342.20" fill="none" stroke="#0b2fb5" stroke-width="1.3" stroke-linejoin="round" stroke-linecap="round" />
<polyline points="228.10,338.31 235.22,316.28 240.56,286.47 244.12,303.32 249.46,342.20" fill="none" stroke="#0b2fb5" stroke-width="1.3" stroke-linejoin="round" stroke-linecap="round" />
<polyline points="228.99,326.65 235.22,318.87 239.67,296.84 246.79,322.76 253.02,342.20" fill="none" stroke="#0b2fb5" stroke-width="1.3" stroke-linejoin="round" stroke-linecap="round" />
<polyline points="228.10,331.83 234.33,322.76 240.56,303.32 252.66,322.76 254.80,342.20" fill="none" stroke="#0b2fb5" stroke-width="1.3" stroke-linejoin="round" stroke-linecap="round" />
<polyline points="228.10,322.76 235.22,326.65 241.45,287.77 247.68,329.24 251.24,342.20" fill="none" stroke="#0b2fb5" stroke-width="1.3" stroke-linejoin="round" stroke-linecap="round" />
<polyline points="228.10,334.42 235.22,303.32 238.78,309.80 244.12,329.24 250.35,342.20" fill="none" stroke="#0b2fb5" stroke-width="1.3" stroke-linejoin="round" stroke-linecap="round" />
<polyline points="228.10,316.28 235.22,325.35 240.56,309.80 249.46,329.24 253.02,342.20" fill="none" stroke="#0b2fb5" stroke-width="1.3" stroke-linejoin="round" stroke-linecap="round" />
<polyline points="229.88,337.02 235.22,329.24 238.78,305.91 242.34,296.84 248.57,342.20" fill="none" stroke="#0b2fb5" stroke-width="1.3" stroke-linejoin="round" stroke-linecap="round" />
<polyline points="228.10,330.54 233.44,308.50 237.00,292.95 242.34,316.28 249.46,342.20" fill="none" stroke="#0b2fb5" stroke-width="1.3" stroke-linejoin="round" stroke-linecap="round" />
<polyline points="228.10,333.13 235.22,321.46 240.56,326.65 245.90,334.42 249.46,342.20" fill="none" stroke="#0b2fb5" stroke-width="1.3" stroke-linejoin="round" stroke-linecap="round" />
<polyline points="228.99,318.87 234.33,313.69 239.67,316.28 253.02,335.72 255.33,342.20" fill="none" stroke="#0b2fb5" stroke-width="1.3" stroke-linejoin="round" stroke-linecap="round" />
<polyline points="228.10,327.94 235.22,299.43 242.34,305.91 247.68,342.20" fill="none" stroke="#0b2fb5" stroke-width="1.3" stroke-linejoin="round" stroke-linecap="round" />
<line x1="253.02" y1="342.20" x2="308.20" y2="342.20" stroke="#0b2fb5" stroke-width="1.1" />
<line x1="263.70" y1="341.20" x2="263.70" y2="343.60" stroke="#0b2fb5" stroke-width="0.8" />
<line x1="272.60" y1="341.20" x2="272.60" y2="343.60" stroke="#0b2fb5" stroke-width="0.8" />
<line x1="281.50" y1="341.20" x2="281.50" y2="343.60" stroke="#0b2fb5" stroke-width="0.8" />
<line x1="290.40" y1="341.20" x2="290.40" y2="343.60" stroke="#0b2fb5" stroke-width="0.8" />
<line x1="299.30" y1="341.20" x2="299.30" y2="343.60" stroke="#0b2fb5" stroke-width="0.8" />
<line x1="308.20" y1="341.20" x2="308.20" y2="343.60" stroke="#0b2fb5" stroke-width="0.8" />
<line x1="272.00" y1="321.40" x2="277.40" y2="321.40" stroke="#0b2fb5" stroke-width="1.1" />
<rect x="273.70" y="320.40" width="2.0" height="2.0" fill="#0b2fb5"/>
<text x="280.50" y="323.20" font-size="5.9" text-anchor="start" font-weight="normal" fill="#000" stroke="#000" >Tolinapant</text>
<text x="280.50" y="330.60" font-size="6.0" text-anchor="start" font-weight="normal" fill="#000" stroke="#000" >(25 mg/kg</text>
<text x="280.50" y="337.90" font-size="6.0" text-anchor="start" font-weight="normal" fill="#000" stroke="#000" >po, qd)</text>
<text x="328.50" y="179.80" font-size="10.5" text-anchor="start" font-weight="bold" fill="#000" stroke="#000" >F</text>
<text x="342.90" y="191.20" font-size="5.9" text-anchor="middle" font-weight="normal" fill="#000" stroke="#000" >Vehicle</text>
<text x="342.90" y="197.40" font-size="5.9" text-anchor="middle" font-weight="normal" fill="#000" stroke="#000" >control</text>
<text x="412.90" y="188.20" font-size="7.0" text-anchor="middle" font-weight="normal" fill="#d00a1c" stroke="#d00a1c" >25 mg/kg tolinapant</text>
<line x1="362.60" y1="190.50" x2="464.40" y2="190.50" stroke="#222" stroke-width="0.9" />
<text x="379.80" y="197.40" font-size="5.9" text-anchor="middle" font-weight="normal" fill="#d00a1c" stroke="#d00a1c" >2 h</text>
<text x="413.60" y="197.40" font-size="5.9" text-anchor="middle" font-weight="normal" fill="#d00a1c" stroke="#d00a1c" >6 h</text>
<text x="449.60" y="197.40" font-size="5.9" text-anchor="middle" font-weight="normal" fill="#d00a1c" stroke="#d00a1c" >24 h</text>
<rect x="325.40" y="201.00" width="140.30" height="17.40" fill="#fbfbfb" stroke="#5a5a5a" stroke-width="0.9" rx="0.8"/>
<rect x="325.40" y="221.20" width="140.30" height="11.10" fill="#fbfbfb" stroke="#5a5a5a" stroke-width="0.9" rx="0.8"/>
<rect x="325.40" y="234.40" width="140.30" height="12.00" fill="#fbfbfb" stroke="#5a5a5a" stroke-width="0.9" rx="0.8"/>
<rect x="325.40" y="249.30" width="140.30" height="19.20" fill="#fbfbfb" stroke="#5a5a5a" stroke-width="0.9" rx="0.8"/>
<rect x="325.40" y="271.50" width="140.30" height="24.30" fill="#fbfbfb" stroke="#5a5a5a" stroke-width="0.9" rx="0.8"/>
<rect x="325.40" y="298.40" width="140.30" height="25.80" fill="#fbfbfb" stroke="#5a5a5a" stroke-width="0.9" rx="0.8"/>
<rect x="325.40" y="326.30" width="140.30" height="11.90" fill="#fbfbfb" stroke="#5a5a5a" stroke-width="0.9" rx="0.8"/>
<rect x="325.40" y="341.00" width="140.30" height="14.20" fill="#fbfbfb" stroke="#5a5a5a" stroke-width="0.9" rx="0.8"/>
<rect x="327.20" y="205.50" width="10.40" height="5.00" rx="2.50" fill="rgb(0,0,0)" filter="url(#b9)"/>
<rect x="338.68" y="207.60" width="10.40" height="5.60" rx="2.80" fill="rgb(0,0,0)" filter="url(#b9)"/>
<rect x="350.16" y="208.20" width="10.40" height="5.60" rx="2.80" fill="rgb(0,0,0)" filter="url(#b9)"/>
<rect x="361.64" y="208.80" width="10.40" height="4.00" rx="2.00" fill="rgb(38,38,38)" filter="url(#b9)"/>
<rect x="373.12" y="208.40" width="10.40" height="4.20" rx="2.10" fill="rgb(38,38,38)" filter="url(#b9)"/>
<rect x="384.60" y="209.60" width="10.40" height="4.80" rx="2.40" fill="rgb(25,25,25)" filter="url(#b9)"/>
<rect x="396.08" y="210.00" width="10.40" height="5.00" rx="2.50" fill="rgb(51,51,51)" filter="url(#b9)"/>
<rect x="407.56" y="209.90" width="10.40" height="4.60" rx="2.30" fill="rgb(64,64,64)" filter="url(#b9)"/>
<rect x="419.04" y="209.75" width="10.40" height="3.50" rx="1.75" fill="rgb(153,153,153)" filter="url(#b9)"/>
<rect x="430.52" y="210.50" width="10.40" height="4.00" rx="2.00" fill="rgb(128,128,128)" filter="url(#b9)"/>
<rect x="442.00" y="210.00" width="10.40" height="4.00" rx="2.00" fill="rgb(115,115,115)" filter="url(#b9)"/>
<rect x="453.48" y="209.70" width="10.40" height="3.60" rx="1.80" fill="rgb(115,115,115)" filter="url(#b9)"/>
<rect x="361.89" y="213.50" width="9.90" height="3.00" rx="1.50" fill="rgb(166,166,166)" filter="url(#b9)"/>
<rect x="373.37" y="213.50" width="9.90" height="3.00" rx="1.50" fill="rgb(166,166,166)" filter="url(#b9)"/>
<rect x="384.85" y="213.50" width="9.90" height="3.00" rx="1.50" fill="rgb(166,166,166)" filter="url(#b9)"/>
<rect x="396.33" y="213.50" width="9.90" height="3.00" rx="1.50" fill="rgb(166,166,166)" filter="url(#b9)"/>
<rect x="407.81" y="213.50" width="9.90" height="3.00" rx="1.50" fill="rgb(166,166,166)" filter="url(#b9)"/>
<rect x="419.29" y="213.50" width="9.90" height="3.00" rx="1.50" fill="rgb(166,166,166)" filter="url(#b9)"/>
<rect x="430.77" y="212.50" width="9.90" height="3.00" rx="1.50" fill="rgb(191,191,191)" filter="url(#b9)"/>
<rect x="442.25" y="212.50" width="9.90" height="3.00" rx="1.50" fill="rgb(191,191,191)" filter="url(#b9)"/>
<rect x="453.73" y="212.50" width="9.90" height="3.00" rx="1.50" fill="rgb(191,191,191)" filter="url(#b9)"/>
<rect x="424.90" y="210.60" width="3.20" height="3.20" rx="1.60" fill="rgb(0,0,0)" filter="url(#b4)"/>
<rect x="326.90" y="222.0" width="11.0" height="9.6" rx="0.8" fill="url(#gx)" opacity="0.95" filter="url(#b5)"/>
<rect x="338.38" y="222.0" width="11.0" height="9.6" rx="0.8" fill="url(#gx)" opacity="0.90" filter="url(#b5)"/>
<rect x="349.86" y="222.0" width="11.0" height="9.6" rx="0.8" fill="url(#gx)" opacity="0.85" filter="url(#b5)"/>
<rect x="361.34" y="222.0" width="11.0" height="9.6" rx="0.8" fill="url(#gx)" opacity="0.70" filter="url(#b5)"/>
<rect x="372.82" y="222.0" width="11.0" height="9.6" rx="0.8" fill="url(#gx)" opacity="0.60" filter="url(#b5)"/>
<rect x="384.30" y="222.0" width="11.0" height="9.6" rx="0.8" fill="url(#gx)" opacity="0.90" filter="url(#b5)"/>
<rect x="395.78" y="222.0" width="11.0" height="9.6" rx="0.8" fill="url(#gx)" opacity="0.92" filter="url(#b5)"/>
<rect x="407.26" y="222.0" width="11.0" height="9.6" rx="0.8" fill="url(#gx)" opacity="0.88" filter="url(#b5)"/>
<rect x="418.74" y="222.0" width="11.0" height="9.6" rx="0.8" fill="url(#gx)" opacity="0.75" filter="url(#b5)"/>
<rect x="430.22" y="222.0" width="11.0" height="9.6" rx="0.8" fill="url(#gx)" opacity="0.88" filter="url(#b5)"/>
<rect x="441.70" y="222.0" width="11.0" height="9.6" rx="0.8" fill="url(#gx)" opacity="0.85" filter="url(#b5)"/>
<rect x="453.18" y="222.0" width="11.0" height="9.6" rx="0.8" fill="url(#gx)" opacity="0.95" filter="url(#b5)"/>
<rect x="328.40" y="223.70" width="8.00" height="1.60" rx="0.80" fill="rgb(77,77,77)" filter="url(#b5)" transform="rotate(8 332.40 224.50)"/>
<rect x="327.50" y="239.00" width="9.80" height="2.00" rx="1.00" fill="rgb(191,191,191)" filter="url(#b6)"/>
<rect x="338.98" y="239.00" width="9.80" height="2.00" rx="1.00" fill="rgb(224,224,224)" filter="url(#b6)"/>
<rect x="350.46" y="239.00" width="9.80" height="2.00" rx="1.00" fill="rgb(204,204,204)" filter="url(#b6)"/>
<rect x="361.94" y="239.00" width="9.80" height="2.00" rx="1.00" fill="rgb(204,204,204)" filter="url(#b6)"/>
<rect x="373.42" y="239.00" width="9.80" height="2.00" rx="1.00" fill="rgb(166,166,166)" filter="url(#b6)"/>
<rect x="384.90" y="239.00" width="9.80" height="2.00" rx="1.00" fill="rgb(153,153,153)" filter="url(#b6)"/>
<rect x="396.38" y="239.00" width="9.80" height="2.00" rx="1.00" fill="rgb(13,13,13)" filter="url(#b6)"/>
<rect x="407.86" y="239.00" width="9.80" height="2.00" rx="1.00" fill="rgb(38,38,38)" filter="url(#b6)"/>
<rect x="419.34" y="239.00" width="9.80" height="2.00" rx="1.00" fill="rgb(128,128,128)" filter="url(#b6)"/>
<rect x="430.82" y="239.00" width="9.80" height="2.00" rx="1.00" fill="rgb(235,235,235)" filter="url(#b6)"/>
<rect x="442.30" y="239.00" width="9.80" height="2.00" rx="1.00" fill="rgb(204,204,204)" filter="url(#b6)"/>
<rect x="453.78" y="239.00" width="9.80" height="2.00" rx="1.00" fill="rgb(242,242,242)" filter="url(#b6)"/>
<rect x="327.50" y="241.00" width="9.80" height="4.00" rx="2.00" fill="rgb(230,230,230)" filter="url(#b10)"/>
<rect x="338.98" y="241.00" width="9.80" height="4.00" rx="2.00" fill="rgb(243,243,243)" filter="url(#b10)"/>
<rect x="350.46" y="241.00" width="9.80" height="4.00" rx="2.00" fill="rgb(235,235,235)" filter="url(#b10)"/>
<rect x="361.94" y="241.00" width="9.80" height="4.00" rx="2.00" fill="rgb(235,235,235)" filter="url(#b10)"/>
<rect x="373.42" y="241.00" width="9.80" height="4.00" rx="2.00" fill="rgb(219,219,219)" filter="url(#b10)"/>
<rect x="384.90" y="241.00" width="9.80" height="4.00" rx="2.00" fill="rgb(214,214,214)" filter="url(#b10)"/>
<rect x="396.38" y="241.00" width="9.80" height="4.00" rx="2.00" fill="rgb(158,158,158)" filter="url(#b10)"/>
<rect x="407.86" y="241.00" width="9.80" height="4.00" rx="2.00" fill="rgb(168,168,168)" filter="url(#b10)"/>
<rect x="419.34" y="241.00" width="9.80" height="4.00" rx="2.00" fill="rgb(204,204,204)" filter="url(#b10)"/>
<rect x="430.82" y="241.00" width="9.80" height="4.00" rx="2.00" fill="rgb(247,247,247)" filter="url(#b10)"/>
<rect x="442.30" y="241.00" width="9.80" height="4.00" rx="2.00" fill="rgb(235,235,235)" filter="url(#b10)"/>
<rect x="453.78" y="241.00" width="9.80" height="4.00" rx="2.00" fill="rgb(250,250,250)" filter="url(#b10)"/>
<rect x="396.28" y="240.50" width="10.00" height="4.60" rx="2.30" fill="rgb(166,166,166)" filter="url(#b10)"/>
<rect x="407.76" y="240.50" width="10.00" height="4.60" rx="2.30" fill="rgb(166,166,166)" filter="url(#b10)"/>
<rect x="327.20" y="253.20" width="10.40" height="2.20" rx="1.10" fill="rgb(102,102,102)" filter="url(#b6)"/>
<rect x="338.68" y="253.10" width="10.40" height="2.40" rx="1.20" fill="rgb(13,13,13)" filter="url(#b6)"/>
<rect x="350.16" y="253.20" width="10.40" height="2.20" rx="1.10" fill="rgb(38,38,38)" filter="url(#b6)"/>
<rect x="361.64" y="252.80" width="10.40" height="3.00" rx="1.50" fill="rgb(0,0,0)" filter="url(#b6)"/>
<rect x="373.12" y="252.80" width="10.40" height="3.00" rx="1.50" fill="rgb(0,0,0)" filter="url(#b6)"/>
<rect x="384.60" y="253.10" width="10.40" height="2.40" rx="1.20" fill="rgb(13,13,13)" filter="url(#b6)"/>
<rect x="396.08" y="253.10" width="10.40" height="2.40" rx="1.20" fill="rgb(13,13,13)" filter="url(#b6)"/>
<rect x="407.56" y="253.10" width="10.40" height="2.40" rx="1.20" fill="rgb(13,13,13)" filter="url(#b6)"/>
<rect x="419.04" y="253.10" width="10.40" height="2.40" rx="1.20" fill="rgb(13,13,13)" filter="url(#b6)"/>
<rect x="430.52" y="253.30" width="10.40" height="2.00" rx="1.00" fill="rgb(204,204,204)" filter="url(#b6)"/>
<rect x="442.00" y="253.20" width="10.40" height="2.20" rx="1.10" fill="rgb(77,77,77)" filter="url(#b6)"/>
<rect x="453.48" y="253.00" width="10.40" height="2.60" rx="1.30" fill="rgb(0,0,0)" filter="url(#b6)"/>
<rect x="361.64" y="255.40" width="10.40" height="3.60" rx="1.80" fill="rgb(184,184,184)" filter="url(#b10)"/>
<rect x="373.12" y="255.40" width="10.40" height="3.60" rx="1.80" fill="rgb(184,184,184)" filter="url(#b10)"/>
<rect x="384.60" y="255.40" width="10.40" height="3.60" rx="1.80" fill="rgb(184,184,184)" filter="url(#b10)"/>
<rect x="396.08" y="255.40" width="10.40" height="3.60" rx="1.80" fill="rgb(184,184,184)" filter="url(#b10)"/>
<rect x="407.56" y="255.40" width="10.40" height="3.60" rx="1.80" fill="rgb(184,184,184)" filter="url(#b10)"/>
<rect x="419.04" y="255.40" width="10.40" height="3.60" rx="1.80" fill="rgb(184,184,184)" filter="url(#b10)"/>
<rect x="327.20" y="260.60" width="10.40" height="2.40" rx="1.20" fill="rgb(140,140,140)" filter="url(#b6)"/>
<rect x="338.68" y="260.60" width="10.40" height="2.40" rx="1.20" fill="rgb(224,224,224)" filter="url(#b6)"/>
<rect x="350.16" y="260.60" width="10.40" height="2.40" rx="1.20" fill="rgb(204,204,204)" filter="url(#b6)"/>
<rect x="361.64" y="260.60" width="10.40" height="2.40" rx="1.20" fill="rgb(140,140,140)" filter="url(#b6)"/>
<rect x="373.12" y="260.60" width="10.40" height="2.40" rx="1.20" fill="rgb(51,51,51)" filter="url(#b6)"/>
<rect x="384.60" y="260.60" width="10.40" height="2.40" rx="1.20" fill="rgb(64,64,64)" filter="url(#b6)"/>
<rect x="396.08" y="260.60" width="10.40" height="2.40" rx="1.20" fill="rgb(0,0,0)" filter="url(#b6)"/>
<rect x="407.56" y="260.60" width="10.40" height="2.40" rx="1.20" fill="rgb(0,0,0)" filter="url(#b6)"/>
<rect x="419.04" y="260.60" width="10.40" height="2.40" rx="1.20" fill="rgb(38,38,38)" filter="url(#b6)"/>
<rect x="430.52" y="260.60" width="10.40" height="2.40" rx="1.20" fill="rgb(217,217,217)" filter="url(#b6)"/>
<rect x="442.00" y="260.60" width="10.40" height="2.40" rx="1.20" fill="rgb(102,102,102)" filter="url(#b6)"/>
<rect x="453.48" y="260.60" width="10.40" height="2.40" rx="1.20" fill="rgb(178,178,178)" filter="url(#b6)"/>
<rect x="373.62" y="263.25" width="9.40" height="3.50" rx="1.75" fill="rgb(178,178,178)" filter="url(#b10)"/>
<rect x="385.10" y="263.25" width="9.40" height="3.50" rx="1.75" fill="rgb(178,178,178)" filter="url(#b10)"/>
<rect x="396.08" y="261.60" width="10.40" height="6.40" rx="3.20" fill="rgb(38,38,38)" filter="url(#b10)"/>
<rect x="407.56" y="261.60" width="10.40" height="6.40" rx="3.20" fill="rgb(38,38,38)" filter="url(#b10)"/>
<rect x="419.04" y="262.50" width="10.40" height="3.00" rx="1.50" fill="rgb(153,153,153)" filter="url(#b10)"/>
<rect x="459.68" y="252.50" width="4.00" height="2.60" rx="1.30" fill="rgb(0,0,0)" filter="url(#b5)"/>
<rect x="327.95" y="274.40" width="8.90" height="1.20" rx="0.60" fill="rgb(217,217,217)" filter="url(#b6)"/>
<rect x="339.43" y="274.40" width="8.90" height="1.20" rx="0.60" fill="rgb(204,204,204)" filter="url(#b6)"/>
<rect x="350.91" y="274.40" width="8.90" height="1.20" rx="0.60" fill="rgb(204,204,204)" filter="url(#b6)"/>
<rect x="362.39" y="274.40" width="8.90" height="1.20" rx="0.60" fill="rgb(204,204,204)" filter="url(#b6)"/>
<rect x="373.87" y="274.40" width="8.90" height="1.20" rx="0.60" fill="rgb(191,191,191)" filter="url(#b6)"/>
<rect x="385.35" y="274.40" width="8.90" height="1.20" rx="0.60" fill="rgb(178,178,178)" filter="url(#b6)"/>
<rect x="396.83" y="274.40" width="8.90" height="1.20" rx="0.60" fill="rgb(153,153,153)" filter="url(#b6)"/>
<rect x="408.31" y="274.40" width="8.90" height="1.20" rx="0.60" fill="rgb(153,153,153)" filter="url(#b6)"/>
<rect x="419.79" y="274.40" width="8.90" height="1.20" rx="0.60" fill="rgb(178,178,178)" filter="url(#b6)"/>
<rect x="431.27" y="274.40" width="8.90" height="1.20" rx="0.60" fill="rgb(224,224,224)" filter="url(#b6)"/>
<rect x="442.75" y="274.40" width="8.90" height="1.20" rx="0.60" fill="rgb(204,204,204)" filter="url(#b6)"/>
<rect x="454.23" y="274.40" width="8.90" height="1.20" rx="0.60" fill="rgb(204,204,204)" filter="url(#b6)"/>
<rect x="327.20" y="279.70" width="10.40" height="2.20" rx="1.10" fill="rgb(235,235,235)" filter="url(#b6)"/>
<rect x="338.68" y="279.70" width="10.40" height="2.20" rx="1.10" fill="rgb(204,204,204)" filter="url(#b6)"/>
<rect x="350.16" y="279.70" width="10.40" height="2.20" rx="1.10" fill="rgb(191,191,191)" filter="url(#b6)"/>
<rect x="361.64" y="279.60" width="10.40" height="2.40" rx="1.20" fill="rgb(89,89,89)" filter="url(#b6)"/>
<rect x="373.12" y="279.60" width="10.40" height="2.40" rx="1.20" fill="rgb(77,77,77)" filter="url(#b6)"/>
<rect x="384.60" y="279.40" width="10.40" height="2.80" rx="1.40" fill="rgb(0,0,0)" filter="url(#b6)"/>
<rect x="396.08" y="278.40" width="10.40" height="4.80" rx="2.40" fill="rgb(0,0,0)" filter="url(#b6)"/>
<rect x="407.56" y="278.40" width="10.40" height="4.80" rx="2.40" fill="rgb(0,0,0)" filter="url(#b6)"/>
<rect x="419.04" y="279.10" width="10.40" height="3.00" rx="1.50" fill="rgb(25,25,25)" filter="url(#b6)"/>
<rect x="430.52" y="279.70" width="10.40" height="2.20" rx="1.10" fill="rgb(230,230,230)" filter="url(#b6)"/>
<rect x="442.00" y="279.50" width="10.40" height="2.20" rx="1.10" fill="rgb(178,178,178)" filter="url(#b6)"/>
<rect x="453.48" y="278.80" width="10.40" height="2.40" rx="1.20" fill="rgb(115,115,115)" filter="url(#b6)"/>
<rect x="327.20" y="287.50" width="10.40" height="2.20" rx="1.10" fill="rgb(204,204,204)" filter="url(#b6)"/>
<rect x="338.68" y="288.30" width="10.40" height="2.20" rx="1.10" fill="rgb(178,178,178)" filter="url(#b6)"/>
<rect x="350.16" y="288.40" width="10.40" height="2.40" rx="1.20" fill="rgb(178,178,178)" filter="url(#b6)"/>
<rect x="361.64" y="288.30" width="10.40" height="2.60" rx="1.30" fill="rgb(153,153,153)" filter="url(#b6)"/>
<rect x="373.12" y="288.30" width="10.40" height="2.60" rx="1.30" fill="rgb(153,153,153)" filter="url(#b6)"/>
<rect x="384.60" y="288.40" width="10.40" height="2.80" rx="1.40" fill="rgb(89,89,89)" filter="url(#b6)"/>
<rect x="396.08" y="287.90" width="10.40" height="3.40" rx="1.70" fill="rgb(0,0,0)" filter="url(#b6)"/>
<rect x="407.56" y="288.00" width="10.40" height="3.20" rx="1.60" fill="rgb(25,25,25)" filter="url(#b6)"/>
<rect x="419.04" y="288.30" width="10.40" height="2.60" rx="1.30" fill="rgb(166,166,166)" filter="url(#b6)"/>
<rect x="430.52" y="288.70" width="10.40" height="2.20" rx="1.10" fill="rgb(191,191,191)" filter="url(#b6)"/>
<rect x="442.00" y="288.40" width="10.40" height="2.40" rx="1.20" fill="rgb(166,166,166)" filter="url(#b6)"/>
<rect x="453.48" y="287.60" width="10.40" height="2.40" rx="1.20" fill="rgb(51,51,51)" filter="url(#b6)"/>
<line x1="325.40" y1="284.40" x2="465.70" y2="284.40" stroke="#4a4a4a" stroke-width="0.9" />
<rect x="327.20" y="306.20" width="10.40" height="6.00" rx="3.00" fill="rgb(0,0,0)" filter="url(#b7)"/>
<rect x="338.68" y="308.70" width="10.40" height="2.60" rx="1.30" fill="rgb(178,178,178)" filter="url(#b7)"/>
<rect x="350.16" y="307.90" width="10.40" height="4.20" rx="2.10" fill="rgb(13,13,13)" filter="url(#b7)"/>
<rect x="361.64" y="308.70" width="10.40" height="3.00" rx="1.50" fill="rgb(77,77,77)" filter="url(#b7)"/>
<rect x="373.12" y="307.40" width="10.40" height="4.80" rx="2.40" fill="rgb(0,0,0)" filter="url(#b7)"/>
<rect x="384.60" y="307.00" width="10.40" height="5.20" rx="2.60" fill="rgb(0,0,0)" filter="url(#b7)"/>
<rect x="396.08" y="307.40" width="10.40" height="3.40" rx="1.70" fill="rgb(38,38,38)" filter="url(#b7)"/>
<rect x="407.56" y="307.40" width="10.40" height="3.40" rx="1.70" fill="rgb(51,51,51)" filter="url(#b7)"/>
<rect x="419.04" y="307.50" width="10.40" height="3.20" rx="1.60" fill="rgb(77,77,77)" filter="url(#b7)"/>
<rect x="430.52" y="303.80" width="10.40" height="7.40" rx="3.70" fill="rgb(0,0,0)" filter="url(#b7)"/>
<rect x="442.00" y="302.50" width="10.40" height="14.00" rx="5.20" fill="rgb(0,0,0)" filter="url(#b7)"/>
<rect x="453.48" y="304.40" width="10.40" height="4.40" rx="2.20" fill="rgb(13,13,13)" filter="url(#b7)"/>
<rect x="327.20" y="313.00" width="10.40" height="4.80" rx="2.40" fill="rgb(0,0,0)" filter="url(#b8)"/>
<rect x="338.68" y="314.50" width="10.40" height="3.00" rx="1.50" fill="rgb(242,242,242)" filter="url(#b8)"/>
<rect x="350.16" y="314.50" width="10.40" height="3.00" rx="1.50" fill="rgb(217,217,217)" filter="url(#b8)"/>
<rect x="361.64" y="314.50" width="10.40" height="3.00" rx="1.50" fill="rgb(224,224,224)" filter="url(#b8)"/>
<rect x="373.12" y="314.30" width="10.40" height="3.40" rx="1.70" fill="rgb(178,178,178)" filter="url(#b8)"/>
<rect x="384.60" y="314.20" width="10.40" height="3.60" rx="1.80" fill="rgb(140,140,140)" filter="url(#b8)"/>
<rect x="396.08" y="313.00" width="10.40" height="5.20" rx="2.60" fill="rgb(13,13,13)" filter="url(#b8)"/>
<rect x="407.56" y="313.00" width="10.40" height="5.20" rx="2.60" fill="rgb(25,25,25)" filter="url(#b8)"/>
<rect x="419.04" y="313.60" width="10.40" height="4.00" rx="2.00" fill="rgb(89,89,89)" filter="url(#b8)"/>
<rect x="430.52" y="311.50" width="10.40" height="4.00" rx="2.00" fill="rgb(140,140,140)" filter="url(#b8)"/>
<rect x="453.48" y="310.30" width="10.40" height="3.00" rx="1.50" fill="rgb(153,153,153)" filter="url(#b8)"/>
<rect x="396.08" y="311.20" width="10.40" height="2.00" rx="1.00" fill="rgb(153,153,153)" filter="url(#b8)"/>
<rect x="407.56" y="311.20" width="10.40" height="2.00" rx="1.00" fill="rgb(153,153,153)" filter="url(#b8)"/>
<rect x="398.28" y="301.00" width="6.00" height="1.00" rx="0.50" fill="rgb(204,204,204)" filter="url(#b6)"/>
<rect x="409.76" y="301.00" width="6.00" height="1.00" rx="0.50" fill="rgb(204,204,204)" filter="url(#b6)"/>
<rect x="327.20" y="332.90" width="10.40" height="2.20" rx="1.10" fill="rgb(178,178,178)" filter="url(#b6)"/>
<rect x="338.68" y="332.80" width="10.40" height="2.40" rx="1.20" fill="rgb(89,89,89)" filter="url(#b6)"/>
<rect x="350.16" y="332.60" width="10.40" height="2.40" rx="1.20" fill="rgb(77,77,77)" filter="url(#b6)"/>
<rect x="361.64" y="332.00" width="10.40" height="2.80" rx="1.40" fill="rgb(13,13,13)" filter="url(#b6)"/>
<rect x="373.12" y="331.80" width="10.40" height="2.80" rx="1.40" fill="rgb(13,13,13)" filter="url(#b6)"/>
<rect x="384.60" y="331.50" width="10.40" height="2.80" rx="1.40" fill="rgb(13,13,13)" filter="url(#b6)"/>
<rect x="396.08" y="330.60" width="10.40" height="3.60" rx="1.80" fill="rgb(0,0,0)" filter="url(#b6)"/>
<rect x="407.56" y="331.00" width="10.40" height="3.20" rx="1.60" fill="rgb(13,13,13)" filter="url(#b6)"/>
<rect x="419.04" y="331.30" width="10.40" height="3.00" rx="1.50" fill="rgb(25,25,25)" filter="url(#b6)"/>
<rect x="430.52" y="332.20" width="10.40" height="2.00" rx="1.00" fill="rgb(51,51,51)" filter="url(#b6)"/>
<rect x="442.00" y="331.40" width="10.40" height="2.40" rx="1.20" fill="rgb(38,38,38)" filter="url(#b6)"/>
<rect x="453.48" y="329.50" width="10.40" height="2.60" rx="1.30" fill="rgb(25,25,25)" filter="url(#b6)"/>
<rect x="327.00" y="343.50" width="10.80" height="7.40" rx="3.70" fill="rgb(0,0,0)" filter="url(#b6)"/>
<rect x="338.48" y="344.30" width="10.80" height="7.40" rx="3.70" fill="rgb(0,0,0)" filter="url(#b6)"/>
<rect x="349.96" y="344.30" width="10.80" height="7.40" rx="3.70" fill="rgb(0,0,0)" filter="url(#b6)"/>
<rect x="361.44" y="344.30" width="10.80" height="7.40" rx="3.70" fill="rgb(0,0,0)" filter="url(#b6)"/>
<rect x="372.92" y="344.30" width="10.80" height="7.40" rx="3.70" fill="rgb(0,0,0)" filter="url(#b6)"/>
<rect x="384.40" y="344.30" width="10.80" height="7.40" rx="3.70" fill="rgb(0,0,0)" filter="url(#b6)"/>
<rect x="395.88" y="344.30" width="10.80" height="7.40" rx="3.70" fill="rgb(0,0,0)" filter="url(#b6)"/>
<rect x="407.36" y="344.30" width="10.80" height="7.40" rx="3.70" fill="rgb(0,0,0)" filter="url(#b6)"/>
<rect x="418.84" y="344.30" width="10.80" height="7.40" rx="3.70" fill="rgb(0,0,0)" filter="url(#b6)"/>
<rect x="430.32" y="344.30" width="10.80" height="7.40" rx="3.70" fill="rgb(0,0,0)" filter="url(#b6)"/>
<rect x="441.80" y="344.30" width="10.80" height="7.40" rx="3.70" fill="rgb(0,0,0)" filter="url(#b6)"/>
<rect x="453.28" y="343.30" width="10.80" height="7.40" rx="3.70" fill="rgb(0,0,0)" filter="url(#b6)"/>
<rect x="326.30" y="201.90" width="138.50" height="15.60" fill="none" stroke="#c8c8c8" stroke-width="0.8"/>
<rect x="325.40" y="218.20" width="140.30" height="1.3" fill="#9a9a9a"/>
<rect x="326.30" y="222.10" width="138.50" height="9.30" fill="none" stroke="#c8c8c8" stroke-width="0.8"/>
<rect x="325.40" y="232.10" width="140.30" height="1.3" fill="#9a9a9a"/>
<rect x="326.30" y="235.30" width="138.50" height="10.20" fill="none" stroke="#c8c8c8" stroke-width="0.8"/>
<rect x="325.40" y="246.20" width="140.30" height="1.3" fill="#9a9a9a"/>
<rect x="326.30" y="250.20" width="138.50" height="17.40" fill="none" stroke="#c8c8c8" stroke-width="0.8"/>
<rect x="325.40" y="268.30" width="140.30" height="1.3" fill="#9a9a9a"/>
<rect x="326.30" y="272.40" width="138.50" height="22.50" fill="none" stroke="#c8c8c8" stroke-width="0.8"/>
<rect x="325.40" y="295.60" width="140.30" height="1.3" fill="#9a9a9a"/>
<rect x="326.30" y="299.30" width="138.50" height="24.00" fill="none" stroke="#c8c8c8" stroke-width="0.8"/>
<rect x="325.40" y="324.00" width="140.30" height="1.3" fill="#9a9a9a"/>
<rect x="326.30" y="327.20" width="138.50" height="10.10" fill="none" stroke="#c8c8c8" stroke-width="0.8"/>
<rect x="325.40" y="338.00" width="140.30" height="1.3" fill="#9a9a9a"/>
<rect x="326.30" y="341.90" width="138.50" height="12.40" fill="none" stroke="#c8c8c8" stroke-width="0.8"/>
<rect x="325.40" y="355.00" width="140.30" height="1.3" fill="#9a9a9a"/>
<line x1="326.40" y1="199.80" x2="358.50" y2="199.80" stroke="#8a8a8a" stroke-width="1.5" />
<line x1="362.60" y1="199.80" x2="394.70" y2="199.80" stroke="#8a8a8a" stroke-width="1.5" />
<line x1="398.00" y1="199.80" x2="428.20" y2="199.80" stroke="#8a8a8a" stroke-width="1.5" />
<line x1="432.40" y1="199.80" x2="464.40" y2="199.80" stroke="#8a8a8a" stroke-width="1.5" />
<line x1="361.60" y1="190.50" x2="361.60" y2="355.30" stroke="#777" stroke-width="0.55" />
<line x1="396.20" y1="190.50" x2="396.20" y2="355.30" stroke="#777" stroke-width="0.55" />
<line x1="430.20" y1="190.50" x2="430.20" y2="355.30" stroke="#777" stroke-width="0.55" />
<text transform="translate(468.00,213.00) scale(0.93,1)" x="0" y="0" font-size="6.5" text-anchor="start" font-weight="normal" fill="#000" stroke="#000" >cIAP1</text>
<text transform="translate(468.00,229.30) scale(0.93,1)" x="0" y="0" font-size="6.5" text-anchor="start" font-weight="normal" fill="#000" stroke="#000" >XIAP</text>
<text transform="translate(468.00,243.00) scale(0.93,1)" x="0" y="0" font-size="6.5" text-anchor="start" font-weight="normal" fill="#000" stroke="#000" >Cl. PARP</text>
<text transform="translate(468.00,261.50) scale(0.93,1)" x="0" y="0" font-size="6.5" text-anchor="start" font-weight="normal" fill="#000" stroke="#000" >Total PARP</text>
<text transform="translate(468.00,285.80) scale(0.93,1)" x="0" y="0" font-size="6.5" text-anchor="start" font-weight="normal" fill="#000" stroke="#000" >Cl. caspase-8</text>
<text transform="translate(468.00,313.10) scale(0.93,1)" x="0" y="0" font-size="6.5" text-anchor="start" font-weight="normal" fill="#000" stroke="#000" >Cl. caspase-3</text>
<text x="468.00" y="277.40" font-size="3.6" text-anchor="start" font-weight="normal" fill="#000" stroke="#000" >p43</text>
<text x="468.00" y="291.80" font-size="3.6" text-anchor="start" font-weight="normal" fill="#000" stroke="#000" >p18</text>
<text x="468.00" y="331.40" font-size="6.1" text-anchor="start" font-weight="normal" fill="#000" stroke="#000" >p-Histone H2A.X</text>
<text x="468.00" y="338.20" font-size="6.1" text-anchor="start" font-weight="normal" fill="#000" stroke="#000" >[Ser139]</text>
<text x="468.00" y="349.20" font-size="5.9" text-anchor="start" font-weight="normal" fill="#000" stroke="#000" ><tspan font-weight="bold">β</tspan>-Actin</text>
</svg></body></html>
